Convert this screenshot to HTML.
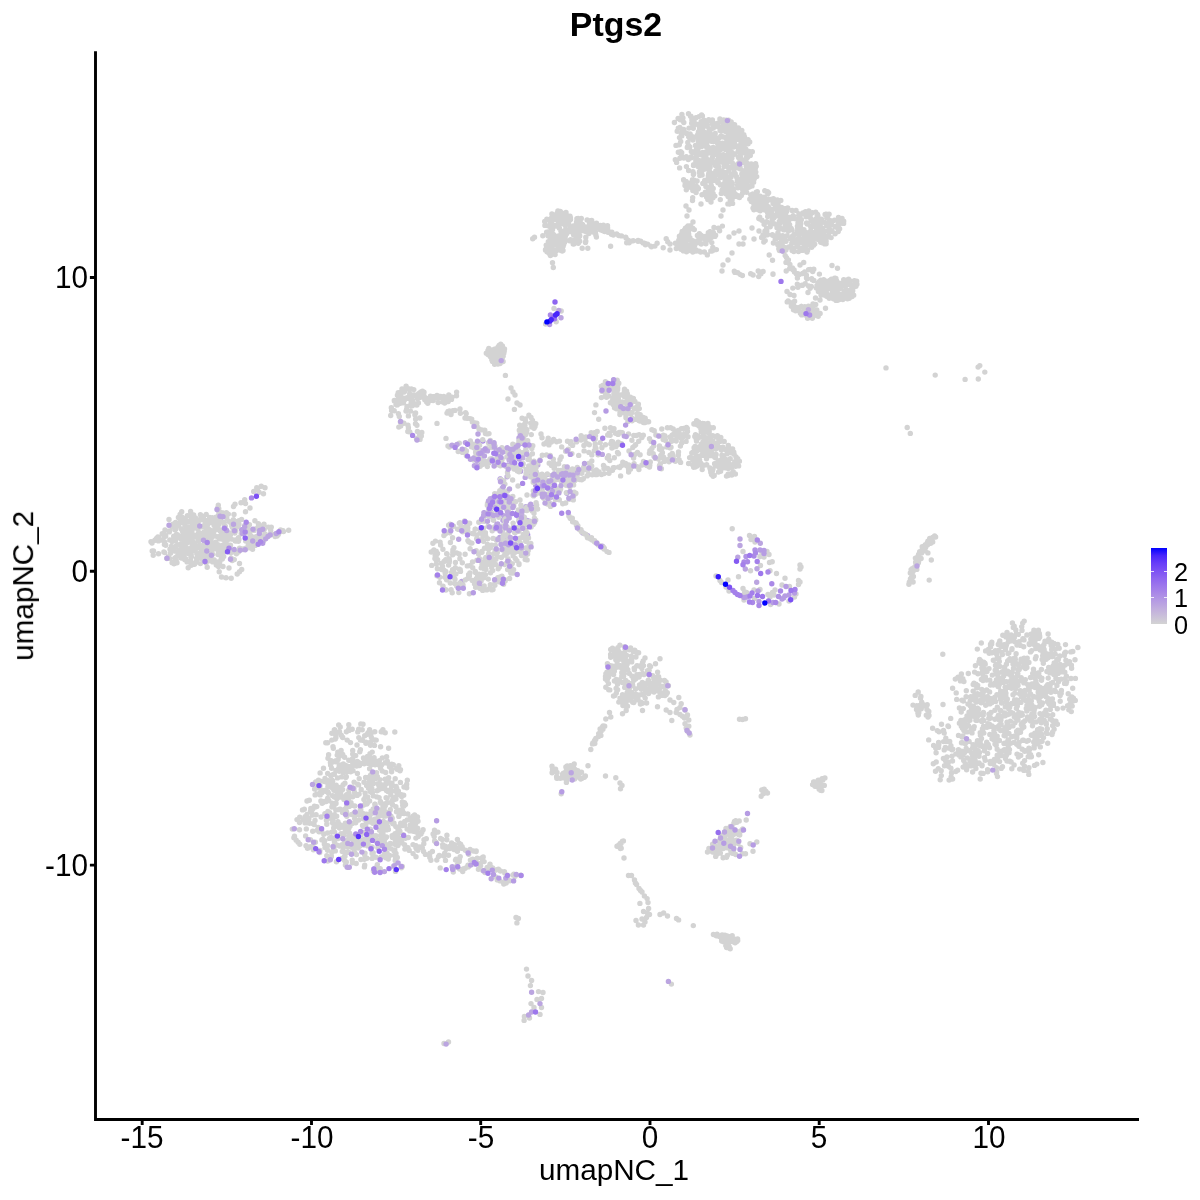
<!DOCTYPE html>
<html><head><meta charset="utf-8"><title>Ptgs2</title>
<style>
html,body{margin:0;padding:0;background:#fff}
body{width:1200px;height:1200px;position:relative;overflow:hidden;font-family:"Liberation Sans",Arial,Helvetica,sans-serif;color:#000}
#plot{position:absolute;left:0;top:0}
.t{position:absolute;white-space:nowrap;line-height:1;will-change:transform}
#title{left:316.3px;width:600px;text-align:center;top:8.4px;font-size:33.9px;font-weight:bold}
.xt{font-size:29.7px;top:1123px;width:80px;text-align:center;transform:scaleY(1.06);transform-origin:50% 84.6%}
.yt{font-size:29.7px;width:80px;text-align:right;left:8px;transform:scaleY(1.06);transform-origin:50% 84.6%}
#xl{left:314px;width:600px;text-align:center;top:1155px;font-size:29.7px}
#yl{left:-277px;top:571px;width:600px;text-align:center;font-size:29.7px;transform:rotate(-90deg)}
#bar{position:absolute;left:1151px;top:548px;width:16px;height:76px;background:linear-gradient(to bottom,#0000ff 0.0%,#4926fb 10.0%,#673df8 20.0%,#7c51f4 30.0%,#8e65f0 40.0%,#9d77ec 50.0%,#aa89e7 60.0%,#b69ce3 70.0%,#c1aede 80.0%,#cac0d9 90.0%,#d3d3d3 100.0%)}
#bar i{position:absolute;height:1px;width:3px;background:#fff;opacity:.8}
.lt{font-size:25.3px;left:1174px}
</style></head><body>
<svg id="plot" width="1200" height="1200" viewBox="0 0 1200 1200">
<g fill="none" stroke-linecap="round" stroke-width="5.4">
<path stroke="#c1aede" d="M508.9 452.7h.01M548.1 481.2h.01M537.8 464.9h.01M529.6 521.2h.01M502.2 488.3h.01"/>
<path stroke="#bba5e0" d="M521.6 464.5h.01M515.4 450.7h.01M498.7 454.3h.01M519 437.9h.01M497.6 458.4h.01M521.6 443.2h.01M481 451h.01M511.2 459.3h.01M511.1 450.8h.01M494 442.6h.01M565.6 469.5h.01M566.9 493.3h.01M530.2 474h.01M568.8 479.4h.01M549.4 503.3h.01M535.7 485.4h.01M545.3 481h.01M551.7 488.8h.01M538.2 488.8h.01M509 515.1h.01M482.9 518h.01M507.7 539.1h.01M503.7 515.8h.01M481.4 520.9h.01M500.6 505.1h.01M525.9 506.7h.01M504.6 518h.01M527.1 520.4h.01M502.8 528.5h.01M497.7 514.2h.01M532.8 507.2h.01M489.5 516.1h.01M502.2 538.5h.01M507.1 476.7h.01M521.3 552.4h.01M502.9 520.3h.01M499.7 537.4h.01M461.7 581.4h.01M480.7 587.4h.01M582.9 532.9h.01M587.7 535.7h.01M520.6 471.3h.01M525.2 477.4h.01M542.6 487.4h.01M547 474.6h.01M560.5 475.7h.01"/>
<path stroke="#b69ce3" d="M502.1 504.7h.01M502.8 490.8h.01M602.3 546.3h.01"/>
<path stroke="#aa89e7" d="M507.7 465.1h.01M482.8 441.1h.01M551.3 497.1h.01M537 486.6h.01"/>
<path stroke="#a480ea" d="M480.9 461.4h.01M516.5 447.2h.01M486.9 463.1h.01M554 489.7h.01M489 511.9h.01M517.1 513.3h.01M527.6 534.8h.01M500.2 478.9h.01M490.6 511.6h.01M506.6 547.5h.01"/>
<path stroke="#d3d3d3" d="M699.5 127h.01M676.6 162.4h.01M675.3 159.8h.01M678.3 152.2h.01M681.3 133.7h.01M756.2 166.2h.01M748.1 139.8h.01M680.7 141.5h.01M686.4 166.6h.01M703.9 163.5h.01M731.9 152.5h.01M723.3 154.8h.01M742.3 177.4h.01M722.3 161.4h.01M736.4 139.6h.01M680.7 151.6h.01M683.8 158.1h.01M730.8 183.4h.01M749.7 142h.01M724.1 166.4h.01M713.1 174.2h.01M733.8 172.6h.01M744.8 139.3h.01M712 128.6h.01M681.8 135.9h.01M710.9 163.6h.01M695.3 151.3h.01M683.7 129.4h.01M691.2 157.7h.01M708.1 147.1h.01M756.7 176.6h.01M726.2 175.3h.01M751.9 184.8h.01M742.6 149.2h.01M689 128.1h.01M683.8 122.5h.01M725.9 126.8h.01M701.6 146.6h.01M712.4 157.6h.01M679.3 144.7h.01M718.1 126.7h.01M733.4 137.2h.01M685.2 184.1h.01M740.9 143.5h.01M747.6 187.2h.01M737.3 134h.01M702.4 115.9h.01M695.4 137h.01M690.1 134h.01M688.6 170.5h.01M746.5 157.2h.01M730.1 196.7h.01M738.3 157.1h.01M741.8 143.7h.01M736 128.8h.01M729.8 145.4h.01M681.9 114.5h.01M729.1 161.5h.01M692.9 140.1h.01M723.4 137h.01M702.2 155.3h.01M752.3 151.8h.01M715.7 162h.01M713.1 179.8h.01M699.7 160.8h.01M721 136h.01M740.3 159.8h.01M739.2 197h.01M725.7 159.6h.01M733 154.7h.01M733.6 193.7h.01M693.6 164.6h.01M681.1 153.8h.01M691.9 119.9h.01M741.3 195.5h.01M735.2 173.8h.01M706.2 157.9h.01M709.3 160.5h.01M687.8 142.4h.01M700.2 170.5h.01M679.5 137.6h.01M740.9 138h.01M744.5 136.9h.01M753.6 165.6h.01M678.1 118.5h.01M708.7 119.8h.01M727.7 186.8h.01M748.5 154.9h.01M694.4 125.1h.01M691.7 123.2h.01M698.4 141.2h.01M696.4 159.1h.01M701.6 114.9h.01M720.1 130.6h.01M744.5 152.9h.01M745.9 149.3h.01M732.6 203.4h.01M745.7 178.1h.01M706.8 145.1h.01M681.8 119.7h.01M693.3 128.2h.01M731 139.1h.01M696.7 155.4h.01M710.6 137.4h.01M698.2 145.9h.01M704.7 156.8h.01M688.3 159.5h.01M694 121.4h.01M697.7 134.6h.01M718.2 182.1h.01M735.2 193.9h.01M683.6 179.7h.01M751.2 170.8h.01M717.7 159.5h.01M743.2 189.1h.01M751.2 175.9h.01M690.9 116.1h.01M702.8 122.8h.01M720.8 170.8h.01M731.9 158.1h.01M742.6 181.9h.01M718.7 173.7h.01M737 136.4h.01M694.2 180.2h.01M714.9 148.3h.01M732.2 183.6h.01M728.5 120.3h.01M693.1 181.4h.01M731.2 176.7h.01M696.5 160.6h.01M712.4 124.1h.01M711.8 188.5h.01M710.9 137.9h.01M722.9 126.2h.01M744.6 159.9h.01M734 134.4h.01M711 140.9h.01M701.3 142.2h.01M754.3 178.7h.01M696.4 147.4h.01M702.8 152.5h.01M674.4 122.5h.01M692.7 137.6h.01M687.3 147.5h.01M755.6 163.6h.01M711 182.3h.01M696 117.7h.01M681.6 156.5h.01M697.1 181h.01M693.7 173.4h.01M720.7 149.4h.01M684.7 132.3h.01M715.2 133.4h.01M682.7 130.9h.01M701.1 121.6h.01M693.5 165.5h.01M738.2 151.1h.01M717.7 147.8h.01M715.8 171h.01M689.7 138.1h.01M706.4 154.1h.01M734.6 195.4h.01M679.9 127.4h.01M732.1 199.6h.01M728.9 183.4h.01M741.2 134.6h.01M728.7 141.1h.01M692.9 171.6h.01M680.2 119.7h.01M723 148.8h.01M697.4 155.5h.01M728.7 194.3h.01M691.4 135.9h.01M734.1 141.4h.01M715.3 175.1h.01M693.4 174.5h.01M690.6 116.3h.01M708.3 175.9h.01M742.5 181.1h.01M698.4 188.5h.01M690.2 183h.01M687 133.7h.01M730.5 200.3h.01M705.8 132.7h.01M682.9 118h.01M750.4 180.5h.01M730.5 148h.01M700.2 128.7h.01M695.5 145.5h.01M688.9 145.9h.01M744.8 152.9h.01M713.1 147.4h.01M687.6 146.6h.01M743.9 183.6h.01M738 195.7h.01M726.1 137.3h.01M698.8 138.5h.01M738.8 197.3h.01M691.3 156.8h.01M692.8 152.7h.01M743 181h.01M740.3 168.9h.01M699.1 146.4h.01M677.2 131.3h.01M692.5 119.1h.01M720.3 143.1h.01M694.1 120.9h.01M715.4 178.4h.01M691.3 151.5h.01M731.3 181.9h.01M730.5 124.3h.01M696.7 165.2h.01M737.2 131.5h.01M692.3 127.3h.01M722.6 143.2h.01M691.1 187.4h.01M713.2 188.4h.01M696.7 124.1h.01M748.8 154.4h.01M679.6 167.9h.01M689.8 147h.01M688.6 136.6h.01M729.3 131.9h.01M699.8 175.5h.01M698.4 131.9h.01M719.9 119h.01M706 163.7h.01M678.3 128.2h.01M707.3 139.2h.01M721.6 146h.01M703.1 131.3h.01M688.5 113.7h.01M708.6 188.5h.01M750.3 155.5h.01M703.7 159.5h.01M695.8 161h.01M679.9 158.2h.01M726.5 188.9h.01M741.5 133.6h.01M686.6 133.2h.01M717.1 148.4h.01M692.5 179.7h.01M724.6 163.7h.01M697.9 151.8h.01M708.7 173.7h.01M726.3 158.1h.01M739.5 184.8h.01M686.3 156.6h.01M681.7 152.7h.01M710.2 160h.01M727.9 120.7h.01M740.8 160.2h.01M715.9 147.9h.01M685 185.6h.01M676 145.4h.01M695 188.1h.01M689 137.3h.01M699 116.6h.01M731.9 195.4h.01M718.3 171.6h.01M749.4 164.2h.01M705.9 186.4h.01M702.8 183.4h.01M686.1 181.5h.01M732.3 168.1h.01M705.3 164.6h.01M727.8 185.3h.01M710.1 167.3h.01M702.6 145.4h.01M732.2 162.6h.01M734.7 154.1h.01M705.3 126.1h.01M750 176.9h.01M712.4 119.9h.01M730.9 144.9h.01M723.5 188.3h.01M711.4 185.9h.01M729 149h.01M696.8 159.8h.01M704.8 133.8h.01M727.4 166.5h.01M706.8 141.9h.01M744.5 171.9h.01M748.4 174.1h.01M742 152.5h.01M702.5 136.2h.01M716.8 174.5h.01M748.4 171.7h.01M730.3 151.3h.01M728.4 138.6h.01M712.1 136.5h.01M754.6 174.2h.01M710.8 186.2h.01M739 168.2h.01M725.1 181.1h.01M749.2 151.4h.01M731.4 141.8h.01M734.6 124.8h.01M705 121h.01M704.8 121.1h.01M738.9 165.9h.01M732.6 145.9h.01M746.8 185h.01M749.8 186.7h.01M702.6 134.2h.01M746.3 165.9h.01M735.2 140.3h.01M702.1 175h.01M715.8 150.4h.01M711.9 139.9h.01M718.8 142.7h.01M727.2 182h.01M697.9 149.6h.01M743.9 144.7h.01M729.3 135h.01M708.5 175.4h.01M726.5 178h.01M726.7 144.7h.01M712.2 188.8h.01M709.3 170.8h.01M702.8 166.1h.01M744.9 170.6h.01M734.9 145.3h.01M720.5 184.9h.01M708.8 138.5h.01M727.1 147.1h.01M710.5 153.1h.01M742.8 174.7h.01M717.6 143.2h.01M748.3 168h.01M706.5 151.5h.01M731.9 128.3h.01M707.9 141.3h.01M705.7 137.3h.01M728.4 130.9h.01M745.3 173.3h.01M708.2 166.2h.01M708.8 147.7h.01M720.7 177.5h.01M727 165.8h.01M704.8 163.7h.01M741.9 186.2h.01M731.6 174.4h.01M710.2 172.4h.01M744 170.8h.01M738.1 166.5h.01M715.4 165.5h.01M722 176.9h.01M735 137.5h.01M724.2 165h.01M737.9 187.8h.01M736.6 176.6h.01M726.4 191.1h.01M729.7 130.9h.01M702.3 161.5h.01M740.5 156.9h.01M747.4 157.6h.01M738.4 148h.01M718 123.2h.01M720.8 120h.01M722.1 170.7h.01M712.4 135.6h.01M709.6 178.3h.01M709.1 128.6h.01M746.2 165.9h.01M730.8 135.7h.01M717.9 166.3h.01M746.6 153.6h.01M730 128.3h.01M718 181.9h.01M719.3 137.8h.01M740.8 139.8h.01M714.7 154.5h.01M735.5 167.8h.01M753.6 182.2h.01M747.3 186h.01M704.7 180.5h.01M755 167.5h.01M702.3 129.6h.01M744.1 144.6h.01M752.1 177.6h.01M751.3 164h.01M737.4 185.1h.01M739 158.3h.01M723.2 184.3h.01M712.4 136.3h.01M726.6 123.3h.01M705 155.4h.01M729.5 182.9h.01M748.1 153.6h.01M737.2 181.2h.01M722 190.1h.01M735.5 166.1h.01M733.8 169.5h.01M727.7 154.9h.01M734.8 144.1h.01M718.7 154.1h.01M743.8 134.6h.01M722.2 160h.01M714.2 180.3h.01M727.2 139.1h.01M745.1 143.5h.01M714.6 162.4h.01M740.8 184.5h.01M699.1 141.2h.01M707.8 187.2h.01M736.8 177.4h.01M733.9 164.6h.01M739.2 163.1h.01M709.2 168.4h.01M707.2 121.7h.01M752.7 167.5h.01M747 177.2h.01M712 141.4h.01M715.7 150.9h.01M731.2 121.9h.01M746.2 161.6h.01M723.7 120h.01M732.7 188.4h.01M725.5 149.5h.01M736 134.7h.01M738.4 128h.01M704 120.3h.01M711 173.3h.01M740.2 182.3h.01M701.2 165.5h.01M724.6 188h.01M755.8 172.1h.01M715.3 173h.01M749.4 155h.01M718.8 161.5h.01M738 129.7h.01M718.5 166.7h.01M721.9 147.5h.01M754.6 177.1h.01M714.1 123.5h.01M739.6 180.2h.01M733.6 191.3h.01M733.3 141.8h.01M738.5 163.5h.01M746.1 140h.01M712.3 150.3h.01M746.6 184.7h.01M747.7 179.1h.01M731.5 139.3h.01M746 169.7h.01M717.5 125.3h.01M742.5 187.9h.01M733.6 169.1h.01M708.8 137.9h.01M745.1 153h.01M746 176.1h.01M731.9 185.4h.01M728.4 154.3h.01M707.7 133.2h.01M739.5 145.8h.01M721 157.3h.01M719.2 126.9h.01M733 144.5h.01M726.2 161h.01M744.3 150.5h.01M743.6 179.6h.01M711.7 121.8h.01M707.2 125.2h.01M730.6 183.4h.01M700 163.3h.01M711.9 160.8h.01M755.3 168.6h.01M723.8 130.8h.01M698.4 137.9h.01M752 185.9h.01M740 166.9h.01M699.5 129.7h.01M754.2 169.1h.01M732.7 175.1h.01M716.1 138h.01M725.8 131.5h.01M704.9 169.1h.01M740.5 133.4h.01M723.7 126.2h.01M748.2 165.5h.01M717.1 179.9h.01M734.9 129.6h.01M699.5 171.8h.01M705 183.4h.01M721.5 130.5h.01M748.1 143.8h.01M726.4 142.5h.01M737.4 134.6h.01M713.7 138.1h.01M702 140.4h.01M699.6 172.8h.01M746 144.2h.01M728.6 132.8h.01M731.4 129.2h.01M743.8 171.7h.01M700.9 125.5h.01M726.7 139.3h.01M734 171.4h.01M732.1 134h.01M741.4 149.2h.01M716.8 181.3h.01M726.6 120.1h.01M725.6 183.5h.01M707.5 180.5h.01M706.1 146.5h.01M696.3 157.5h.01M728 127.9h.01M746.6 183h.01M740.1 147.2h.01M727.8 158.3h.01M709.9 132.5h.01M711.5 179.5h.01M702 170.7h.01M697.1 163.4h.01M728.4 171h.01M749.9 172.1h.01M703.6 155.5h.01M713.3 128h.01M704.5 162.8h.01M705.1 161.4h.01M706.2 180.1h.01M720.1 150.1h.01M728.6 148.3h.01M744.2 144.1h.01M716.8 151.2h.01M745.9 186.5h.01M728.1 189.9h.01M711.5 150.2h.01M718.6 158.3h.01M722.8 156.4h.01M744.1 188.3h.01M746.2 184.4h.01M698.1 166.5h.01M738.1 139.2h.01M753.3 165h.01M728.3 151.1h.01M713.8 141.6h.01M703.5 163h.01M727.9 138.9h.01M729.1 130h.01M704.1 140.7h.01M713.9 137h.01M729.9 181.1h.01M731.4 167.1h.01M740 153.1h.01M734 153.7h.01M711 135.4h.01M719.8 162.3h.01M717.9 182.8h.01M730.5 155.4h.01M723.3 123.6h.01M723.3 173.4h.01M741.8 130.4h.01M717.9 169h.01M748.7 179.8h.01M741.8 174h.01M725.5 177.1h.01M743.5 162.4h.01M721.9 177h.01M733.7 147.1h.01M724.4 172.5h.01M713.1 193.4h.01M707.8 199.5h.01M697.2 186.9h.01M727.3 194.1h.01M683.8 180.2h.01M742.6 193h.01M722.8 192.4h.01M726.2 193.9h.01M757.3 191.7h.01M709.4 192.8h.01M696.1 187.3h.01M746.6 192.3h.01M751.9 196.9h.01M705.3 192.3h.01M731.5 194.7h.01M686.3 189.7h.01M706.6 197h.01M728.1 196.4h.01M721.3 193.4h.01M732.8 192.8h.01M692.4 183.1h.01M696.1 192.6h.01M730.2 200h.01M707.9 197.6h.01M696 185.9h.01M752.6 194.1h.01M727.9 203.9h.01M748.8 187.2h.01M729.4 204h.01M713 197.7h.01M720.3 199.6h.01M696.4 188.3h.01M692.5 200.5h.01M692.8 190.5h.01M710.2 197.8h.01M756.2 192.1h.01M752.3 194.3h.01M702 194.8h.01M722.5 193.1h.01M742.4 189h.01M707.7 196.2h.01M688.1 187.1h.01M692.7 197.6h.01M735.3 196.3h.01M714.8 196.1h.01M710.1 195.3h.01M739.5 197.5h.01M686.1 183.2h.01M778.2 211.3h.01M779 228.4h.01M831.6 223.9h.01M773.4 214.9h.01M831.1 237.6h.01M787.2 235.6h.01M821.6 241.1h.01M817.5 214.4h.01M818 239.5h.01M802.4 250.4h.01M753.9 209.8h.01M768.1 206.6h.01M818.4 230.5h.01M772.1 220.2h.01M777.8 244.7h.01M829.2 222.4h.01M807.6 216.6h.01M776.8 209.9h.01M754 204.7h.01M817.9 215.7h.01M780.3 217.1h.01M764.7 190.8h.01M758.8 218.5h.01M766.9 222.1h.01M839.6 228.8h.01M773 202.3h.01M766.5 228.4h.01M826.1 241.1h.01M784.7 222.6h.01M810.6 240.4h.01M797.2 219.2h.01M777.8 224.6h.01M792.1 250.4h.01M767 234h.01M826.4 214.2h.01M813.9 220.2h.01M781.7 215.1h.01M764.4 205.6h.01M767.5 191.6h.01M793.9 250.5h.01M815.4 226.4h.01M804.9 249.3h.01M782.2 244.8h.01M766.8 231.1h.01M785.1 224.6h.01M800.8 223.5h.01M759.4 198h.01M773.1 218.5h.01M770.6 224h.01M799.1 225.1h.01M791.8 243.3h.01M819.2 236.3h.01M843.6 223.4h.01M761.6 237.5h.01M771.6 210.7h.01M777.9 233h.01M836.5 227.2h.01M804.1 246.9h.01M764.7 235.5h.01M824.1 231.2h.01M760.2 210.8h.01M773.4 198.8h.01M831.5 224.6h.01M801.6 231.8h.01M798 244h.01M751.5 198.1h.01M815.7 212.1h.01M763.8 242.1h.01M835 226.6h.01M780.8 200.4h.01M764.9 210h.01M805.5 211.8h.01M793.8 251.5h.01M775.2 204.1h.01M774.1 223.8h.01M824.8 243.9h.01M811.1 228.1h.01M776 238.8h.01M778.3 236.7h.01M798.7 228.2h.01M802.9 213h.01M781.6 207.5h.01M796 210.4h.01M771.4 209.2h.01M793.1 215.6h.01M754.6 206h.01M820.4 222.6h.01M781.9 247.2h.01M756 197.9h.01M825.1 214.4h.01M764.4 203.8h.01M769.7 212.5h.01M808 243.4h.01M767.6 234.7h.01M766.7 221.7h.01M811.7 247.3h.01M780.5 235.8h.01M788.4 231.1h.01M781.3 218.8h.01M773.6 216.8h.01M840.2 223.5h.01M757.3 196.4h.01M829.1 214.1h.01M806.6 222.9h.01M818.9 236.7h.01M778.8 237.3h.01M800.1 248.5h.01M813.3 237.4h.01M750.8 194.9h.01M798 222.9h.01M762.9 197.8h.01M797.7 228.2h.01M827.7 216.6h.01M812.3 212.7h.01M788.8 247h.01M773.1 203.4h.01M771 199.5h.01M774.6 235.9h.01M776.1 208h.01M816 225.7h.01M805.7 244.6h.01M825.7 243.3h.01M763 234.9h.01M764.8 231.3h.01M781.8 247h.01M751.3 201.6h.01M779.5 244.3h.01M821.5 219.2h.01M783.2 219h.01M765.7 203.6h.01M788.6 223h.01M813.1 222.1h.01M835.1 233.7h.01M779.7 213.8h.01M786.6 211.6h.01M808.8 211h.01M767.8 193.7h.01M780.3 228.9h.01M779.4 250.5h.01M822.3 242.7h.01M807 252.1h.01M810.7 235.4h.01M800.4 226.7h.01M780.1 227.8h.01M770.2 226.7h.01M838.5 217.4h.01M800 217.6h.01M800.7 220.8h.01M765.2 240.6h.01M811.8 240.9h.01M786 241.3h.01M760.3 196.2h.01M758.2 209.7h.01M799.9 216.1h.01M817.2 215.8h.01M827.5 236.4h.01M784.9 208.6h.01M749.8 199.3h.01M753.8 197.8h.01M775.3 207.5h.01M811.4 243h.01M790.1 238.6h.01M792.1 210.4h.01M777.4 213.1h.01M786.4 224.4h.01M785.8 220.9h.01M794.1 216.7h.01M789.3 217.4h.01M791.8 218.6h.01M830.1 230.5h.01M815.7 222.8h.01M815.8 233.2h.01M789.6 224.8h.01M762.5 208.2h.01M775.4 203.4h.01M773.4 243h.01M798.9 213.9h.01M778.3 243.6h.01M794.2 218.5h.01M784.4 239.2h.01M839.6 222.9h.01M779.3 221.4h.01M775.2 238.9h.01M818.8 239.3h.01M793.3 248.1h.01M791.2 228.4h.01M839.9 223.3h.01M797.6 230.7h.01M777.4 200h.01M768.6 192.7h.01M789.3 229.7h.01M838.2 231.5h.01M777.2 201.4h.01M779.7 223.2h.01M785.8 228.5h.01M794.3 234.4h.01M841.6 220.9h.01M782.7 235.8h.01M796.3 243.4h.01M761.9 204h.01M807.6 250.2h.01M753 208.1h.01M772.6 235.3h.01M826.5 225.5h.01M783.1 210.9h.01M764.3 197.3h.01M781 241.9h.01M759.7 218.9h.01M759.7 217.1h.01M801.3 219.7h.01M767.7 212.8h.01M760.7 201.9h.01M798 245.1h.01M842 218.4h.01M804.8 231.7h.01M787.2 220.4h.01M807.3 238.1h.01M754.2 202.3h.01M809.6 231.9h.01M782.1 239.8h.01M772.4 234.7h.01M763.1 208.9h.01M767.7 200.6h.01M826.8 217.9h.01M822.8 228.3h.01M810.3 242.2h.01M806.8 214.9h.01M826.1 243.8h.01M843.7 221.3h.01M767.7 216.4h.01M797.1 246.3h.01M826.1 238.7h.01M813 241.5h.01M807.2 241.5h.01M808.2 216.4h.01M769.3 209.5h.01M756.8 204h.01M792 229.9h.01M766.3 204h.01M836.6 226.5h.01M787.3 219.2h.01M798.5 251.6h.01M793.3 239.7h.01M803 243.3h.01M785.5 247.7h.01M810.2 215.5h.01M784 229.9h.01M785.4 220.7h.01M838.4 219.1h.01M831.1 231.4h.01M792.6 235.9h.01M820.6 235.8h.01M787.1 235.6h.01M776 236.6h.01M802.2 213.9h.01M812.6 239.4h.01M785.9 249.9h.01M764.1 224.2h.01M761.9 220.3h.01M764.2 235h.01M777.6 211.4h.01M778.8 248.7h.01M767.5 211.9h.01M764.9 209.7h.01M780.8 228.9h.01M773.7 217.9h.01M776.2 204.4h.01M777.8 207.7h.01M765.2 202.2h.01M777 227.7h.01M758.7 205.3h.01M783.1 228.7h.01M768.4 209.6h.01M768.7 199.3h.01M776.3 216.1h.01M771.4 215.1h.01M782 218.9h.01M778.1 203.7h.01M785.7 215h.01M788.5 222.4h.01M783.6 220.6h.01M762.9 201.2h.01M787.7 208h.01M772.7 217.7h.01M758.6 201.2h.01M768.3 206.6h.01M804.5 241.4h.01M818.2 229.6h.01M824.2 239.2h.01M813.2 232.4h.01M804.9 243.8h.01M797.4 231.3h.01M815.8 237.8h.01M815.8 226.9h.01M813.3 225h.01M829.3 232.5h.01M803.5 238.5h.01M806.7 233.9h.01M828.7 236.2h.01M811.1 221.2h.01M811.1 244.8h.01M815.8 219.3h.01M801.4 240.9h.01M832.1 231.2h.01M821 232.3h.01M806.1 216.7h.01M829.2 228.3h.01M834.4 220.3h.01M804.3 234.7h.01M831.7 230.8h.01M797.4 226.3h.01M824.7 222.6h.01M799 234.9h.01M803.6 230.6h.01M824.5 238.6h.01M797.2 239.2h.01M816.6 228.8h.01M828.3 223.7h.01M827.2 231.1h.01M812.8 241.2h.01M824.4 239.7h.01M838.7 223h.01M838.1 224.4h.01M794.9 240.2h.01M803 241.8h.01M818.6 219.4h.01M820.7 242.3h.01M823.8 235h.01M820.2 225.3h.01M794.4 239.8h.01M816 219.9h.01M803.9 229.7h.01M810.9 219h.01M798.9 227.8h.01M830.6 220.7h.01M799.5 238.2h.01M819 230.6h.01M823.3 236.8h.01M814.7 244.1h.01M827.9 224.1h.01M810.7 226.4h.01M807.2 224h.01M809.8 240.7h.01M819.5 219.4h.01M809.1 236.1h.01M801.7 233h.01M813.6 245.2h.01M840.4 218.9h.01M807.8 245h.01M806.5 238.9h.01M802.5 230h.01M830.2 224h.01M783.9 251.7h.01M785.2 255.6h.01M786.5 257.6h.01M788.4 259.9h.01M786 262.4h.01M789.9 264.5h.01M789.7 268.5h.01M794.5 272.1h.01M796.2 273.5h.01M796.5 274h.01M797.4 278.1h.01M844 291h.01M823.7 279.7h.01M831.5 294.4h.01M849.5 282.4h.01M826.6 296.3h.01M825.5 280.9h.01M832.3 285.3h.01M836.1 298.2h.01M844.2 297.3h.01M817.2 287.2h.01M836.4 280.4h.01M818.9 285.2h.01M847.6 290.4h.01M835.6 294.6h.01M831.4 279.1h.01M836 294.9h.01M825.9 288.7h.01M843.7 279.7h.01M854.4 280.6h.01M819.5 281.5h.01M824.1 295.1h.01M855.9 286.3h.01M837.7 300.2h.01M856.9 284.2h.01M817 285.5h.01M835.3 290.3h.01M821.9 282.1h.01M823.1 290.9h.01M833.4 298.7h.01M853 286.7h.01M852.1 296.6h.01M840.9 296.4h.01M845.4 282.5h.01M831.6 289.4h.01M816.4 288.1h.01M846.1 292.5h.01M856.7 281.3h.01M848.6 279.3h.01M825.1 282.8h.01M840.5 285.1h.01M834.6 280.5h.01M843 294h.01M828.8 282.5h.01M838.7 294.5h.01M829.6 286.6h.01M819.9 291.9h.01M847 284.7h.01M822.5 293.7h.01M849.9 296.5h.01M846.1 296.5h.01M821.9 280.9h.01M826.2 282.6h.01M825.4 283.4h.01M845.4 291.7h.01M844.2 282.7h.01M851.1 294.3h.01M818.4 291.5h.01M853.3 287.8h.01M838.2 285.3h.01M826.7 293h.01M829.5 288.2h.01M820.5 287.6h.01M842.3 283.6h.01M834.6 278.2h.01M818.2 283.3h.01M838.6 297.2h.01M834.1 284.6h.01M847.5 298.7h.01M836.1 300.4h.01M846.4 294.7h.01M830.4 282.3h.01M829.7 280.4h.01M852.7 290.7h.01M829.9 297.6h.01M827.3 285.3h.01M854.7 286.5h.01M853.7 295.3h.01M832.2 297.4h.01M850.9 284.8h.01M847.6 293.3h.01M849.2 298.2h.01M820.3 284.3h.01M847.5 281.1h.01M833.1 296.5h.01M829.2 298.3h.01M851.2 289.2h.01M844.3 281.3h.01M841.1 287h.01M838.3 296.9h.01M847.7 296.4h.01M834.4 285.7h.01M839.2 288.8h.01M849.8 280.7h.01M855.3 281.3h.01M842.8 296.5h.01M827.7 286.7h.01M835.9 278.4h.01M826.9 289.2h.01M824.6 290.9h.01M846.2 282.9h.01M849.9 293.3h.01M848.6 282.3h.01M822.9 281.6h.01M824.2 284.1h.01M836 281h.01M831 286.8h.01M845.4 286h.01M842.8 299.5h.01M822.2 285.3h.01M849.6 291h.01M836.4 288.6h.01M854 284.9h.01M832.5 291.5h.01M827.1 285.4h.01M838.9 283h.01M827.2 294.7h.01M839.4 299.5h.01M852.5 285.8h.01M820.8 280.1h.01M832.6 282.5h.01M846 280.5h.01M838.5 293.4h.01M830.3 286.1h.01M823.4 285.8h.01M833.6 293.1h.01M829.4 285.6h.01M829.5 295.3h.01M852.5 288.5h.01M840.4 299.1h.01M820.4 283.1h.01M820.1 288.6h.01M825.1 292.7h.01M850.4 295.3h.01M821 295.1h.01M843.1 285.6h.01M792.4 268h.01M793.3 269.9h.01M794.1 269.9h.01M797.9 273.8h.01M799.2 274.5h.01M802.6 273.5h.01M804.7 272h.01M808.6 269.7h.01M810.3 269.4h.01M813.8 269.2h.01M812.7 271.5h.01M819.4 274.1h.01M806.4 275.3h.01M806.5 278h.01M807.1 278.8h.01M811.7 278.7h.01M812.3 279.7h.01M813.6 280.6h.01M813.9 280.4h.01M792.8 288.1h.01M797.3 284.2h.01M797.9 287.2h.01M802 285.3h.01M802.3 285.4h.01M805.2 283.7h.01M808.6 285.9h.01M811.3 286.4h.01M810.1 288.3h.01M808 292.5h.01M832 265.5h.01M837.5 268.2h.01M800 265h.01M803.7 262.5h.01M786.2 271h.01M773 274.3h.01M772.5 260.3h.01M769.2 255h.01M793.1 303.3h.01M804.8 306.8h.01M813.5 305.5h.01M812.7 312.2h.01M790.8 302.8h.01M807.6 318.2h.01M804.4 312.8h.01M801 312h.01M794.6 301.2h.01M800 307.1h.01M816.8 309.9h.01M820.1 313.5h.01M788.1 301h.01M801.4 306.4h.01M791.3 306.3h.01M787.2 301.9h.01M804.5 307h.01M813.3 316.2h.01M801.7 314.9h.01M793.9 308.6h.01M793.8 308.6h.01M810.6 310.9h.01M816 310.4h.01M811.2 315.7h.01M812.3 318.2h.01M807.4 316.4h.01M811.6 307.8h.01M817.9 314.3h.01M818.2 316.2h.01M817.9 313.1h.01M805 310.6h.01M799.5 311.3h.01M793.8 305.7h.01M804.4 309.1h.01M811.9 317.7h.01M804.7 308h.01M816.2 310.6h.01M793.5 309.8h.01M797 307.6h.01M813 304h.01M814.9 314.7h.01M809.3 315.6h.01M805.2 315.1h.01M815.7 304.5h.01M813.1 310.7h.01M795.6 310.7h.01M801.3 306.5h.01M792.4 302.8h.01M800.4 313.3h.01M808.4 306.1h.01M787 291.5h.01M790 294.5h.01M794 295.5h.01M815.5 298h.01M820 300h.01M825.5 308.3h.01M686.2 243.2h.01M690.5 225.6h.01M705.9 243.7h.01M689.9 237.7h.01M718.3 228.1h.01M686.5 251.8h.01M703.2 236.5h.01M713.2 250.3h.01M722.4 226.1h.01M685.9 244.4h.01M693.6 250h.01M687.5 248.5h.01M679.4 236.2h.01M699.4 233.7h.01M683.1 240.7h.01M692.8 252h.01M691.1 244.1h.01M688.6 227.1h.01M692.7 228.1h.01M700.5 234.9h.01M715.6 235.2h.01M694.3 229.6h.01M706.9 238.7h.01M686.2 249.7h.01M714.9 236.4h.01M707.4 240.3h.01M684.5 229.9h.01M708.3 232.7h.01M681.5 244h.01M699.5 234.4h.01M681.4 239.9h.01M681.5 234.3h.01M701.2 244.1h.01M696.2 251h.01M711.1 236h.01M709.9 233h.01M683.5 250.9h.01M696.1 251h.01M700.6 252h.01M682.7 233.8h.01M696.1 249.9h.01M710.1 231.7h.01M704.4 252h.01M708.6 239.2h.01M710.8 251h.01M708.4 237.1h.01M692.7 240.7h.01M676.3 248.5h.01M685.1 235.5h.01M706.6 237.4h.01M697.6 240.6h.01M684.5 247.5h.01M714 227.4h.01M705.5 239.8h.01M713.3 232.5h.01M701.5 243.6h.01M681 249.3h.01M716.4 249.6h.01M707.3 254.9h.01M679.8 237.6h.01M682.2 231.5h.01M693.6 229.2h.01M697.8 241.6h.01M699.2 251.2h.01M719.6 230.8h.01M711.8 242.6h.01M685.4 249.4h.01M709.9 231.7h.01M706.1 236.3h.01M678.1 245h.01M682.4 242h.01M686.9 227.1h.01M679.1 240.1h.01M689.4 239.2h.01M712.8 247.5h.01M690.8 227.9h.01M711.3 237.6h.01M699.6 238.5h.01M711.9 251h.01M683.6 237.4h.01M694.6 245.5h.01M697.1 242.8h.01M692.3 250.3h.01M686.4 250.8h.01M675.4 243.2h.01M701.1 238.5h.01M684.3 245.8h.01M681.3 243.7h.01M688.7 234.1h.01M685.4 228.2h.01M683.9 248.1h.01M691.9 248.6h.01M697.4 235.5h.01M687.2 239.4h.01M678.8 240.1h.01M688.5 231.2h.01M685 243.8h.01M687.2 247.1h.01M688.9 250.6h.01M688.7 247.3h.01M679.7 240h.01M682.4 241.2h.01M693.2 245.7h.01M684.3 245.9h.01M686.6 228.2h.01M691 228.5h.01M687.9 232h.01M686 206h.01M689 210h.01M687 216h.01M693 222h.01M688 226h.01M701 204h.01M711 202h.01M723 210h.01M721 216h.01M698 189h.01M729 237h.01M734 233h.01M739 231h.01M744 238h.01M739 244h.01M743 244h.01M752 228h.01M759 231h.01M754 239h.01M732 253h.01M728 260h.01M723 265h.01M722 271h.01M773 274h.01M734.3 271.2h.01M734.9 272.4h.01M737.8 272.7h.01M740.4 274.6h.01M742.4 275.5h.01M753.1 275h.01M761 273.7h.01M750.7 273.8h.01M759.8 272.5h.01M762.4 271.6h.01M763.1 271.4h.01M758.2 270.9h.01M758.7 276.6h.01M549.1 251h.01M560.7 239.4h.01M573.8 244h.01M574.7 240.9h.01M546.8 219.3h.01M569.2 230.3h.01M585.9 229.3h.01M577.2 219.1h.01M608 232.2h.01M559.5 245.3h.01M594.8 232.7h.01M554 237.1h.01M565.7 215.1h.01M590.2 220.8h.01M563.5 222.9h.01M599.6 228h.01M560.3 211.4h.01M576.5 221.9h.01M606.6 227.8h.01M578.8 222.8h.01M556.3 243.7h.01M596.4 237h.01M603.8 227.8h.01M594.2 231.3h.01M593 225.3h.01M560 242.6h.01M552.2 216.7h.01M608.3 231.3h.01M548.9 231.6h.01M575 229.7h.01M559.3 224.7h.01M569.5 240.8h.01M564.8 238.9h.01M557.1 226.1h.01M568.7 222.6h.01M548.2 235.9h.01M575.7 229.4h.01M547 251.8h.01M560 237.5h.01M563.1 246.2h.01M565.4 235.9h.01M574.8 240.2h.01M544.9 225.4h.01M547.8 247.6h.01M559.4 228.3h.01M583.1 225.6h.01M577.3 228.5h.01M561.5 233.5h.01M554.5 250h.01M548.1 225.8h.01M552.6 224.6h.01M595.7 234.2h.01M607.5 225.7h.01M603.4 225.1h.01M580.6 223.3h.01M559.6 243.2h.01M551.9 247h.01M563.8 214.9h.01M593.8 232.3h.01M554.3 215.3h.01M548.7 245.8h.01M559.9 241.6h.01M570.4 231.5h.01M566 221.7h.01M578.3 243.3h.01M568.8 224.1h.01M591.7 220.4h.01M562.2 251.1h.01M575 228.2h.01M604.6 231.5h.01M560.7 215.1h.01M575 228.3h.01M601.5 228h.01M563.8 234.6h.01M572.8 232.4h.01M553 253.8h.01M600.3 229.8h.01M545.6 250.3h.01M557.8 245.8h.01M570.5 219.5h.01M568.2 229.8h.01M584.8 227.5h.01M548.4 234.8h.01M570.7 226.8h.01M555.1 254.6h.01M579 230.4h.01M564.3 233.6h.01M557.4 212.8h.01M594.3 231.1h.01M548.3 241.8h.01M596.9 224.5h.01M579.7 241.2h.01M546.2 245.1h.01M562 231.3h.01M556 218.8h.01M573.2 244.1h.01M586.2 228.8h.01M565.6 221.1h.01M590.4 224.5h.01M589.4 224.4h.01M607.6 228.1h.01M564.3 220.1h.01M560.7 241.7h.01M585.1 231.2h.01M587.1 220h.01M556.8 224.9h.01M550.2 226.7h.01M581.3 218.4h.01M551.5 245.7h.01M550.2 222.1h.01M580.2 222.3h.01M565.3 225.4h.01M545.5 249.7h.01M561.6 220.3h.01M567.7 215.9h.01M560.1 237.6h.01M563.7 235.1h.01M590.7 226.5h.01M574.7 225.8h.01M550.4 254h.01M559.4 235.6h.01M566.6 233.8h.01M556.4 239.9h.01M561.7 215.8h.01M578.1 218.5h.01M550.2 239.7h.01M552.2 220.5h.01M565.8 229.1h.01M551.6 250.4h.01M550.4 255.5h.01M564.5 242.6h.01M604.2 228.4h.01M563.4 236h.01M549.3 243.5h.01M603.6 231h.01M596.5 223.3h.01M557.5 217.2h.01M552.5 229.8h.01M550.7 255.3h.01M588.9 233.5h.01M553.4 234.5h.01M552.5 251.6h.01M561.2 221.6h.01M585.8 237.2h.01M577 234.5h.01M557.9 211h.01M564.2 216.1h.01M592.9 224.5h.01M557.3 236.5h.01M551.6 220.2h.01M577.3 236.8h.01M585.8 241.2h.01M571.5 230.2h.01M580.2 227.3h.01M571.5 227.8h.01M590.5 228.9h.01M582.2 227.6h.01M574 225.6h.01M559.5 222.3h.01M595.4 232.4h.01M559.1 248h.01M590.1 231.9h.01M547.9 244.8h.01M550.4 238.1h.01M558.8 226.4h.01M564.9 231h.01M555.7 244.3h.01M565.1 238.9h.01M570.5 239.7h.01M552 236.7h.01M563.7 239.5h.01M577.2 222.3h.01M561.8 247.2h.01M560.9 231h.01M554.7 219.3h.01M557.8 225.9h.01M593 229.3h.01M602.3 230.4h.01M577.9 242.5h.01M561.5 216.6h.01M573.7 235.1h.01M555.4 226.1h.01M589.8 230.7h.01M560.8 220.2h.01M579.5 225.7h.01M562.8 223.5h.01M560.6 235.2h.01M581.8 230.6h.01M566 212.4h.01M560.5 250.3h.01M586.1 227.1h.01M563.2 215h.01M585.5 242.5h.01M561.6 214.3h.01M566.6 219.1h.01M554.6 240h.01M576.9 218.7h.01M551.1 218.5h.01M577.1 232.8h.01M564.5 217h.01M563 250.5h.01M551 242.7h.01M570.4 217.6h.01M564.6 216.6h.01M570 216.2h.01M579.6 236.3h.01M551.6 222.3h.01M600.4 225.5h.01M564.5 217.1h.01M588.7 227.8h.01M553.9 249.6h.01M596.4 226.3h.01M600.9 226.9h.01M567.4 223.2h.01M595.7 224.7h.01M546.5 248.5h.01M579.7 235.7h.01M552.9 242h.01M544.7 221.4h.01M553.8 235.4h.01M554.1 235.2h.01M592.2 229.1h.01M563.6 244.8h.01M595.5 227.4h.01M588.2 231.5h.01M595.9 235.3h.01M597.1 227.9h.01M551.9 213.9h.01M564.8 222.6h.01M549 253.2h.01M580 231.2h.01M582.9 226.6h.01M552 226.6h.01M558.3 220.7h.01M561.7 212.9h.01M563.4 242.1h.01M582.5 224.4h.01M574.4 232.2h.01M546.6 232.3h.01M556 250.9h.01M532.7 238.7h.01M534.5 237.2h.01M542.8 235.7h.01M582.2 248.2h.01M587.8 248.2h.01M552.5 262.7h.01M553.3 267.5h.01M610.6 246.2h.01M611.4 234.3h.01M611.9 232.3h.01M613.3 235.1h.01M616.7 233.9h.01M618.7 235.5h.01M621.5 235.9h.01M625.7 237.1h.01M626.1 238.1h.01M627.9 240.3h.01M626.7 242.7h.01M630.9 241.3h.01M629.1 242.8h.01M633.2 240.7h.01M638 241.2h.01M638.1 240.5h.01M640.7 241.2h.01M643.1 242.9h.01M645 243.4h.01M645.4 244.7h.01M647.6 244.1h.01M651.5 246.7h.01M650.8 246.1h.01M654.9 246.1h.01M657.1 243.3h.01M663.2 247.7h.01M666.2 238.7h.01M670 244h.01M670 250h.01M667.7 241.7h.01M554 308.5h.01M561.2 311h.01M556.2 321.7h.01M545.6 324h.01M500.2 356.6h.01M490.2 356.4h.01M499.1 345.5h.01M491.9 350.2h.01M499.2 350.4h.01M497.5 360.2h.01M496.3 363.3h.01M494.1 357.8h.01M504.2 351.2h.01M496.1 349h.01M503.1 361.5h.01M488 350.4h.01M500.2 348.2h.01M496.7 352.3h.01M497.9 364.1h.01M503.2 356.1h.01M491.9 352.5h.01M488 354.4h.01M501.5 361.9h.01M498 354.9h.01M496.6 356.7h.01M496.1 359.3h.01M503.8 353.2h.01M494.2 351h.01M491.8 359.8h.01M494.1 356.1h.01M502.9 348.1h.01M492.5 361.4h.01M488.8 348.5h.01M500 363.5h.01M500.2 352.7h.01M502.4 345.9h.01M504.5 349h.01M502.2 351.4h.01M498 347.2h.01M502.2 358.4h.01M500.9 358.4h.01M494.6 364.2h.01M486.3 353.3h.01M494.6 361.4h.01M498.3 357.7h.01M494.5 349.3h.01M500.7 344.2h.01M495.2 351.8h.01M505.4 375.4h.01M511 388h.01M513 392h.01M515 395h.01M508 399h.01M517 403h.01M520 405h.01M514.4 409.4h.01M411.2 401.9h.01M433.1 400.6h.01M448.7 396.4h.01M419.9 392.6h.01M451.5 399.4h.01M438.7 396.2h.01M409.6 389.7h.01M415.2 404.7h.01M410.8 404.6h.01M396.7 405h.01M418.4 393.9h.01M427.8 403.2h.01M444.9 398.6h.01M405.3 398.3h.01M430.2 400.5h.01M448.2 401.6h.01M440.7 396.5h.01M446.8 398.2h.01M404.1 392.1h.01M411.8 405.9h.01M397.3 404.9h.01M418.4 403h.01M410.9 396h.01M426.5 401.8h.01M396 404.6h.01M409.7 393.9h.01M421.6 393.8h.01M401 396.5h.01M421.4 391.7h.01M411.1 399.1h.01M423 396.7h.01M402 388.9h.01M408.7 388.8h.01M438.4 397.1h.01M447.1 399.2h.01M433.3 398.8h.01M398.2 392.7h.01M417.4 398.4h.01M444.6 403.1h.01M417.3 395.8h.01M406.3 387.7h.01M433.9 398h.01M400.3 403.3h.01M436 396.7h.01M397.4 395.2h.01M404.6 391.4h.01M407.8 398.3h.01M397.6 399.9h.01M399.7 394.9h.01M418.6 396.7h.01M452 397.2h.01M411.3 388.9h.01M433 396.6h.01M394.3 400.4h.01M436.4 397.9h.01M436.9 396h.01M448.8 395h.01M438.9 398h.01M443.9 397.6h.01M456.6 392.1h.01M438.2 402.6h.01M422.9 393.3h.01M436.5 396.3h.01M401.1 400.8h.01M419.9 397.5h.01M456.5 395.7h.01M423.4 393.6h.01M399.6 399.5h.01M443.8 396.4h.01M442.9 402h.01M414.8 395.8h.01M422.5 391.3h.01M418.6 393.8h.01M424.8 399.8h.01M437 395.4h.01M406.1 386.3h.01M402.4 402.9h.01M412.8 404h.01M407.9 397.5h.01M427.4 398.6h.01M442.6 397.9h.01M404.6 399.8h.01M411.2 394.8h.01M430.1 400.6h.01M410.9 398h.01M424.2 396.1h.01M403.5 402.6h.01M413.3 402.8h.01M416.9 405h.01M394.4 401h.01M400.4 392.5h.01M424 392.3h.01M430.4 396.1h.01M413.8 389.6h.01M444.2 397h.01M397.9 402.8h.01M441.1 397.3h.01M412.4 400.8h.01M435 396.5h.01M414.4 395h.01M408.4 415.9h.01M398.4 413.8h.01M398.8 427.1h.01M407.8 431.5h.01M416.5 438.7h.01M415.5 423.7h.01M417.4 431.5h.01M408 425.3h.01M421.8 432.5h.01M408.4 427.8h.01M406.7 408.9h.01M420 436.3h.01M402.9 423.1h.01M409.8 431.9h.01M415.1 413.3h.01M400.7 426h.01M421.3 435.9h.01M415.6 418.9h.01M410.5 411.1h.01M407 406.5h.01M406 411.1h.01M419.8 418h.01M400.4 422h.01M415.6 412.9h.01M416.9 425.2h.01M419.4 435.5h.01M403.9 423.3h.01M399.3 416.4h.01M390.7 415.5h.01M394.2 410.7h.01M391.6 410.6h.01M420 439.4h.01M420.2 438.1h.01M391.3 407.8h.01M414.9 414.8h.01M447 413.1h.01M451 414.6h.01M448 411.4h.01M451.1 413.4h.01M449.4 410.9h.01M452.9 410.7h.01M455 410.4h.01M460 409h.01M460.4 413.3h.01M465.6 412.6h.01M466.2 413.6h.01M465 418h.01M469.9 418.6h.01M467.1 418.3h.01M471.7 419.1h.01M472.4 421.9h.01M475.3 424.4h.01M474.3 422.7h.01M476.8 423.1h.01M477.1 426.5h.01M479 428.9h.01M481.8 429.9h.01M484.8 430.3h.01M485.4 433.6h.01M487.3 433.9h.01M489 433.6h.01M437 423.4h.01M446 438.4h.01M470.4 441h.01M476 444h.01M488.5 442.7h.01M529.4 456.1h.01M525.8 449.5h.01M458.2 451.5h.01M483 464.3h.01M514.2 453.4h.01M509.9 465.9h.01M531.8 448.5h.01M495 446.2h.01M482.5 451.2h.01M501.7 462.6h.01M486.2 448.2h.01M527.1 446.3h.01M497.1 464.5h.01M520.7 435.5h.01M477.2 448.3h.01M478.8 466.6h.01M514.8 465.3h.01M466.4 455.7h.01M498.8 450.6h.01M448 446h.01M517.7 450.7h.01M487.4 466.5h.01M459.3 443.1h.01M522.5 437.5h.01M529.4 459.6h.01M493.1 460.3h.01M475 456.7h.01M485.4 462.5h.01M532.4 453.7h.01M501 459.4h.01M502 459.4h.01M485.9 449.3h.01M478.8 460.5h.01M516.1 445.2h.01M471.4 446.8h.01M505.4 451.3h.01M521.8 455.8h.01M481.8 451.8h.01M481 457.2h.01M479.9 451.9h.01M491.8 458.8h.01M449.4 447.1h.01M490.2 443.2h.01M508.2 451.6h.01M505.4 450.4h.01M530.4 446h.01M472.2 444h.01M480.2 466.2h.01M511.7 466.9h.01M479.6 445.2h.01M488.8 463.1h.01M484.6 461.3h.01M514.2 458h.01M506.9 456.9h.01M514.7 450.2h.01M518.5 450.8h.01M490.1 459h.01M526.3 453.5h.01M511.3 458.4h.01M523.1 463.8h.01M466.4 451h.01M479.4 450.6h.01M480.9 454.3h.01M512.8 444.2h.01M479.9 460.6h.01M526.7 451.8h.01M477.4 448h.01M517.4 453h.01M473.7 460h.01M504.2 449.2h.01M522 452.8h.01M508 452.7h.01M501.9 447.8h.01M454.8 446h.01M528 459.6h.01M499 451.4h.01M491.2 447.5h.01M473.8 447.8h.01M532.8 445.7h.01M489.5 443.7h.01M490.3 440.4h.01M517.4 447.4h.01M464.9 449.6h.01M508.5 451.5h.01M488.8 460.9h.01M475.6 452.2h.01M487.1 461.8h.01M519.9 442.6h.01M496.5 459.2h.01M462.5 452.4h.01M482.7 439.7h.01M527.7 440.7h.01M526.7 429.4h.01M525.6 421.7h.01M522.1 418.2h.01M524.2 424.6h.01M531.8 427h.01M525.3 422.7h.01M526.4 443.2h.01M518.9 441h.01M523.7 439h.01M525.5 434.7h.01M519.3 430.3h.01M535 426.5h.01M532.7 426.8h.01M526.5 432.2h.01M535.8 423.7h.01M531.3 434.6h.01M520.5 442.4h.01M530.8 423.2h.01M523.6 428.6h.01M528.9 415.3h.01M531 417.5h.01M524.9 425.6h.01M526.9 430.1h.01M519.6 441.1h.01M520.3 433.8h.01M521.3 441.3h.01M534 428.2h.01M519.7 425.2h.01M525.3 419h.01M520.8 428.2h.01M532.5 420.4h.01M520.1 432.9h.01M522 432.8h.01M541 434h.01M553.6 439.4h.01M544 444h.01M550 456.6h.01M540 460h.01M548.6 500.1h.01M534.6 476h.01M547.3 474h.01M523.1 463.9h.01M551.3 496.1h.01M579.7 479.5h.01M540.1 477.7h.01M530.5 476.7h.01M561.5 482.1h.01M555.9 475.2h.01M553.8 495.8h.01M534.7 493.1h.01M573.1 497.5h.01M547.5 488.2h.01M543.7 498.3h.01M542.7 492.3h.01M577.9 479.1h.01M560.2 488.5h.01M542.9 479.5h.01M546.6 494.3h.01M545.8 495.9h.01M543.3 486.9h.01M552.7 479.7h.01M555.9 496.2h.01M539.4 493.1h.01M540.6 493.2h.01M562.7 503.8h.01M535.4 494.5h.01M533.6 495.9h.01M572.9 498.7h.01M533.4 473.5h.01M535.5 477.1h.01M573.2 497.3h.01M569 480.8h.01M540.1 482.4h.01M572 477.6h.01M554 476.4h.01M575.9 493.3h.01M558.9 474.6h.01M551.6 475.4h.01M566.3 492.6h.01M561.8 478.5h.01M574.3 492.2h.01M573.3 499.9h.01M556.5 477h.01M539.3 482.7h.01M533.3 491h.01M568.4 473.2h.01M557.9 489h.01M572.4 468.9h.01M542.7 493.6h.01M546.3 482.4h.01M528.7 465.9h.01M552.8 504.8h.01M559.3 499.7h.01M537.4 462.9h.01M559.9 490.4h.01M547.3 504.1h.01M565.7 503h.01M549.6 483.5h.01M567.2 472h.01M532.7 473.6h.01M546.4 495.5h.01M561 472.5h.01M568.7 480.1h.01M572.7 474.3h.01M569.9 486.7h.01M554.4 493.5h.01M566.1 485.2h.01M550.5 506.4h.01M544.5 476.5h.01M566.2 482.2h.01M550.8 495.6h.01M554.9 480.2h.01M562.8 473.5h.01M558.1 479.3h.01M563.6 477.7h.01M558.8 471.3h.01M552.9 504.3h.01M532.9 495.2h.01M542.7 493.3h.01M560.8 470.5h.01M574.6 480.8h.01M531.5 471.7h.01M528.7 471.4h.01M542 474.2h.01M569.5 499.3h.01M565.7 481h.01M532.3 466.7h.01M542.2 487h.01M536 467.8h.01M533.8 467.5h.01M575.5 493.7h.01M536.3 471.9h.01M575 476.9h.01M533.2 482.3h.01M538.3 489h.01M522.6 465.7h.01M555.6 490h.01M555.5 499.7h.01M548.8 494.2h.01M573.6 484.9h.01M545.6 486h.01M534 461.2h.01M560.6 488.9h.01M532.1 462.2h.01M541.1 479h.01M572.9 473.7h.01M554 473.6h.01M555.7 476.2h.01M533.4 480.5h.01M574.8 476.9h.01M574.2 473.2h.01M543.5 497h.01M553.2 480.8h.01M546 484.8h.01M552.5 482.5h.01M546.4 482.8h.01M550.1 491.7h.01M512.6 480h.01M527 495h.01M508 476h.01M520 500h.01M518 486h.01M524.1 510.4h.01M503 537.2h.01M503.1 528.3h.01M514.6 532.6h.01M503.2 501.5h.01M504.9 547.8h.01M513.1 527.2h.01M507 527h.01M507.1 551.3h.01M503.1 495.1h.01M508 547.4h.01M512.1 548.1h.01M530.8 543.4h.01M536.6 505h.01M495.9 502.5h.01M534 513.3h.01M534 508.7h.01M507.8 533.4h.01M525.8 548h.01M487.7 513.2h.01M518.3 510h.01M503.3 535.3h.01M520 538.3h.01M504.4 535.9h.01M499.5 496.4h.01M527.1 522.3h.01M515.1 552.2h.01M505.2 521.3h.01M493.6 499h.01M528.2 550.6h.01M507.8 505.9h.01M517.2 548.9h.01M500.6 479.1h.01M523.3 534.5h.01M518.8 520.8h.01M508.5 502.8h.01M515.6 501.7h.01M532.5 511.3h.01M500.1 510.5h.01M500 506.6h.01M514.1 502h.01M498.8 517.2h.01M496.4 503.7h.01M506.5 509.2h.01M509.1 530h.01M507.4 527.5h.01M493.1 519.2h.01M508.5 510.3h.01M520.9 505.2h.01M511.4 538.5h.01M496.4 540h.01M520.4 517.6h.01M526.4 540.5h.01M503.7 480.6h.01M492.9 497.7h.01M493.6 520.3h.01M503.9 495.7h.01M525.7 541.2h.01M537.6 509h.01M507.9 533.7h.01M515.3 532.4h.01M513.8 505.9h.01M502.9 504.3h.01M491.4 512.8h.01M511.2 551.8h.01M522.9 522h.01M496.8 511.3h.01M491.6 504.1h.01M527.4 510.2h.01M496.7 539.1h.01M534.4 518.2h.01M524.8 525h.01M492.2 530.7h.01M534 523h.01M530.8 508h.01M522.2 519.4h.01M521.6 522.1h.01M524.1 509.7h.01M493.6 505.7h.01M530.1 526.5h.01M494.5 527h.01M529.6 524.7h.01M487.5 515.6h.01M494.7 493.8h.01M512.8 496.5h.01M499.8 490.7h.01M527 532.7h.01M528.9 547.3h.01M495.6 497h.01M532.9 521.8h.01M526 510.4h.01M487.5 503.5h.01M502.4 531.6h.01M518.8 531.2h.01M488.8 509.6h.01M517.4 539.4h.01M531.1 527.1h.01M529.5 521.6h.01M500.5 497.9h.01M512.1 502.2h.01M529.6 523.5h.01M526.9 510.6h.01M502.3 506.8h.01M506.3 508.2h.01M502.6 490.9h.01M494.9 495.2h.01M525.4 530.2h.01M486.3 514.3h.01M526 521.3h.01M491.5 506.3h.01M520.3 542.9h.01M509.8 497.3h.01M522.3 524.7h.01M530.6 509.2h.01M500.7 495.2h.01M516.4 531.6h.01M521.2 549.9h.01M529.2 544.6h.01M517.5 549.1h.01M524.3 517.2h.01M483.3 518.4h.01M502 501.9h.01M503.7 480.6h.01M510.3 551.8h.01M502.1 493.6h.01M506.2 544.6h.01M494.9 506.5h.01M508.2 529.3h.01M523.2 536.1h.01M505.7 541.4h.01M513.9 548.4h.01M502.6 550h.01M510.3 544.2h.01M536.1 502.6h.01M528.5 538h.01M498.6 493.2h.01M508 546.8h.01M526.6 538.3h.01M519.8 529.2h.01M508.8 538.5h.01M518.9 518.1h.01M484.2 521.3h.01M513.1 523.1h.01M487.3 505.3h.01M493.2 520h.01M533.2 524.4h.01M495.9 498.4h.01M502.4 526h.01M493.7 528.4h.01M505.4 506h.01M496.8 493.9h.01M504 541.7h.01M517.2 527.4h.01M488.1 526.3h.01M507.6 491h.01M505.5 518.7h.01M534.6 522.4h.01M502 526.5h.01M522 537.6h.01M513.2 506.7h.01M504.6 492.4h.01M505.1 494.3h.01M521 519.9h.01M518.4 551.2h.01M504.7 519.7h.01M515.1 543.9h.01M504.9 484.1h.01M535.7 520h.01M488.4 516h.01M495.5 497.2h.01M501 540.8h.01M526.7 507.1h.01M459.3 523.2h.01M437.5 553.4h.01M487.7 538.7h.01M485.8 557.4h.01M447.1 554.1h.01M467.7 532.6h.01M484.3 533.2h.01M482.7 590.4h.01M464.6 521h.01M464.4 527.2h.01M491.6 545.3h.01M434.9 558.6h.01M485.7 535.9h.01M482.9 535.8h.01M505.4 579.9h.01M476.7 538.7h.01M471.9 543.1h.01M490.6 572.8h.01M445.3 534h.01M443 586.3h.01M493.1 538.4h.01M495 564.4h.01M507.6 569.6h.01M519 564.5h.01M461.1 526.6h.01M452.2 592.7h.01M449.2 562.6h.01M440.1 542.1h.01M479.4 558.8h.01M497.3 552.4h.01M525.2 559.4h.01M500.1 579.1h.01M479.8 539.9h.01M437.6 559.8h.01M448.8 559h.01M460.2 569.6h.01M482.3 528.6h.01M451.1 589.7h.01M440.6 545h.01M484.5 548.2h.01M477.6 587.1h.01M493.8 553.6h.01M448.6 525.3h.01M499.8 582h.01M459.9 558.7h.01M455.9 574h.01M465.1 554.3h.01M489.2 588.7h.01M526.1 555h.01M432.9 543.2h.01M431.2 552h.01M456.7 586.1h.01M441.4 563.4h.01M435.4 541.1h.01M472.5 562h.01M491.3 565.2h.01M486.7 589.9h.01M491.7 558.3h.01M475.4 572.5h.01M485.5 574.6h.01M490.3 547.8h.01M495.5 552.5h.01M467.9 540.6h.01M495 559.1h.01M493 589.4h.01M495.3 545.2h.01M443 586.2h.01M475.3 571.4h.01M436.4 563.9h.01M482.9 540.8h.01M452.6 537.7h.01M466 526.7h.01M516.9 560.6h.01M510.7 573.1h.01M487.5 546h.01M453.5 526.2h.01M445.8 571.5h.01M450.4 528.5h.01M469.4 576.1h.01M462.7 531.7h.01M469.9 572.9h.01M450.4 542.5h.01M455 579.2h.01M468.6 574.7h.01M450.3 583h.01M450 524.2h.01M439.5 582.8h.01M458.6 529.4h.01M467.8 531h.01M483.5 541.3h.01M481.2 567.9h.01M476.9 560.3h.01M474.5 583.7h.01M503.6 584.2h.01M480 577h.01M459.9 522.6h.01M463 585h.01M483.8 577.7h.01M482 552.2h.01M509.8 562.1h.01M444.9 577.3h.01M462.2 528.1h.01M449.4 560.7h.01M463.6 527.5h.01M525.1 556.6h.01M436.2 551.1h.01M499.4 567h.01M476.2 550.8h.01M469.6 523.2h.01M527.1 559.9h.01M481.4 529.4h.01M467.8 527.7h.01M449.2 558.9h.01M445.2 573.2h.01M446.7 553.8h.01M484.2 586h.01M454.9 583.6h.01M495.9 559.3h.01M477.1 535h.01M513 573.1h.01M451.9 576.9h.01M452.8 552.1h.01M503.6 582.3h.01M462.3 562.8h.01M484.9 559h.01M453.4 575.8h.01M491.8 589.9h.01M452.7 554.7h.01M468.1 578.3h.01M494.8 583.6h.01M472.5 533.5h.01M459.4 569.3h.01M431.7 565.4h.01M455.3 567.8h.01M451.4 572.8h.01M486.9 558.9h.01M473.6 533.8h.01M472.3 580.4h.01M483.4 528.2h.01M511.9 569.9h.01M445.8 589.7h.01M478.8 522.3h.01M470.1 548.8h.01M457.5 529.1h.01M481.8 551.4h.01M480.3 530.7h.01M485.9 569.4h.01M506.7 563h.01M442.5 566.3h.01M512.3 563.6h.01M459.6 584.4h.01M509.6 578.5h.01M446.6 579.7h.01M439.7 577.3h.01M459.2 553.9h.01M485.5 562h.01M515.3 558.5h.01M480.3 532.8h.01M501.9 576.1h.01M458.8 592.6h.01M448.6 565.1h.01M437.4 568.8h.01M444 570.3h.01M436.9 575.8h.01M470.7 543h.01M456.7 552.9h.01M441.6 569.6h.01M488.4 547.8h.01M436.3 560.2h.01M453.9 547.7h.01M468 523.1h.01M475.4 529.1h.01M444 561.5h.01M506.8 563.7h.01M497.4 580.2h.01M452.9 549.9h.01M519 563.7h.01M487.6 562.7h.01M485.4 532.7h.01M488.5 549.3h.01M521.5 554.2h.01M436.1 555.9h.01M449.8 532.8h.01M445.9 590h.01M460.4 523.8h.01M508.4 560.2h.01M491.7 567.7h.01M443.9 535.5h.01M492.7 570.6h.01M495.2 550.5h.01M433.9 549.9h.01M487.5 544.5h.01M527.6 554h.01M452.6 569.6h.01M465.3 579.9h.01M521.4 555.6h.01M442.9 549.3h.01M478.6 554h.01M468.7 541.8h.01M482.7 574.3h.01M494.9 585.2h.01M472.7 567.7h.01M452.5 570.5h.01M441.4 569.3h.01M460.5 571.4h.01M467.3 565.9h.01M449.1 561.2h.01M485.2 564.1h.01M453.8 569.5h.01M498.2 568.8h.01M455.4 562.4h.01M481.1 581h.01M469.4 593.7h.01M484.3 564.1h.01M475.6 587.2h.01M470.1 565.5h.01M435.2 555.5h.01M459.9 583h.01M449.8 531.1h.01M475.1 529.2h.01M445.7 559.7h.01M513.6 569.8h.01M478.9 574.3h.01M477.5 576.6h.01M498.4 579.3h.01M506.9 553.6h.01M488.3 579.1h.01M507.9 558.7h.01M505.1 581h.01M510.9 565.6h.01M483.7 568.5h.01M476.3 578.7h.01M497.8 577.6h.01M492 560.5h.01M504.4 555.1h.01M497.3 556.6h.01M495.4 564.2h.01M513.1 555.8h.01M486.4 565.3h.01M483.2 562.7h.01M477.1 581.4h.01M488.7 553.6h.01M482 562.6h.01M482 565h.01M490.3 584.7h.01M475.8 580h.01M476.6 586h.01M480.2 588.6h.01M504.7 564.6h.01M481.1 579h.01M499.6 577.2h.01M490.6 564.3h.01M501.4 557.5h.01M505.2 554.2h.01M568.9 516h.01M570 517.7h.01M570.4 518.4h.01M572.3 518.2h.01M572.6 521.8h.01M573.5 522h.01M576 523h.01M576.7 524.1h.01M576.4 525.2h.01M577.9 525.9h.01M579.6 529.7h.01M581 529.7h.01M581.5 531.7h.01M584.3 533.7h.01M585.7 534.1h.01M587.1 536.3h.01M587.5 537.7h.01M590.5 539h.01M591.5 537.8h.01M592.1 539.9h.01M594.6 540.7h.01M594.1 541.2h.01M594.7 541.9h.01M596.8 542.7h.01M598.3 544.9h.01M600 545.6h.01M602.7 547.3h.01M603.5 547.2h.01M604.3 548.1h.01M604 549h.01M607 551.6h.01M609 552.4h.01M548.9 444.9h.01M572.9 481.7h.01M556.6 441.7h.01M581.1 440.1h.01M584.1 450.9h.01M583.4 470.1h.01M568.8 471.8h.01M554.1 468.3h.01M572.6 445.4h.01M570.6 443.8h.01M561.2 457h.01M571.9 453.6h.01M553.7 462.9h.01M567.5 441.2h.01M576.5 441.9h.01M572.9 472.4h.01M563.8 472.2h.01M560 459.4h.01M549.2 463.2h.01M547 441.8h.01M581.1 435.8h.01M551.5 465.4h.01M583.9 445.4h.01M583.5 437.3h.01M561.7 446.9h.01M551.4 442.1h.01M554.6 466.6h.01M542 437.7h.01M580.1 473h.01M571 441.8h.01M578.7 455.4h.01M583.3 478.8h.01M568.2 449.3h.01M546.5 454.9h.01M559.5 441.1h.01M553.3 459.3h.01M574.8 478.7h.01M581.8 479.7h.01M548.2 438.2h.01M542.3 455.2h.01M573 482.4h.01M558.5 470.4h.01M550.2 455.5h.01M565.6 451.3h.01M577.1 475h.01M584.9 439.2h.01M558.6 463.8h.01M560 477.1h.01M564.9 476.9h.01M563.9 476.8h.01M566.3 468.6h.01M564.4 466.7h.01M573.7 471.8h.01M573.2 470.6h.01M577.3 467.5h.01M579.9 471.7h.01M581.8 473.2h.01M583.7 467.3h.01M587.8 475.3h.01M590.8 467.9h.01M594.2 471.3h.01M597 474.6h.01M601.5 474.5h.01M604 468.6h.01M604.1 466.5h.01M607.7 468.5h.01M609 473.2h.01M614.4 467.6h.01M620.6 475.9h.01M622.8 462.2h.01M621.5 465.6h.01M628.6 472.1h.01M626.4 465.5h.01M637.2 466.8h.01M638.9 469.6h.01M646.7 465.5h.01M650.3 461.9h.01M644.3 462.1h.01M649.8 465.2h.01M661.4 468.7h.01M659.5 465.7h.01M664.1 461.4h.01M667.4 459.8h.01M669 461.8h.01M675.7 460.5h.01M680.6 462.4h.01M661.8 429h.01M609.8 460.6h.01M595.3 446.9h.01M650.9 452.9h.01M594.3 450.6h.01M629 451h.01M660.1 464.4h.01M604.1 473.6h.01M607.7 435h.01M651.9 429.8h.01M647 463.2h.01M663.2 439.5h.01M599.1 472h.01M672.2 453.4h.01M596.3 470h.01M589.3 444.8h.01M612.5 441.8h.01M625.6 463.5h.01M632.8 447.5h.01M619.2 432.5h.01M678.3 455.2h.01M610.1 435.3h.01M633.8 435.4h.01M665.7 440.5h.01M616 446.6h.01M594.5 435.3h.01M634.8 445.6h.01M654 456.2h.01M594.4 440.1h.01M673 434.7h.01M595.2 444.1h.01M661.9 453.9h.01M659.5 446h.01M618.1 434.4h.01M612.5 470.2h.01M611.9 448h.01M688 436.8h.01M589.2 463.3h.01M673 456.7h.01M678 436.7h.01M651 441.4h.01M678.2 430.5h.01M629 450.9h.01M587.6 470.2h.01M585.9 437h.01M678.3 454.8h.01M595.2 438.9h.01M670.2 436.9h.01M632.4 466.1h.01M619.8 467.5h.01M624.3 464.8h.01M639.1 434.8h.01M619 444.2h.01M676.2 441h.01M595.2 474.5h.01M628.5 433.9h.01M628.3 467.8h.01M608.6 455.6h.01M610.5 427.7h.01M598.1 454.7h.01M595.1 432.5h.01M610.8 443.8h.01M631.9 440.2h.01M588.6 474.2h.01M658.9 435.9h.01M586.1 443.1h.01M641.9 437.5h.01M643.3 435.3h.01M659.5 449.3h.01M655.9 435h.01M601.9 447.7h.01M649.4 453.3h.01M655.4 458.4h.01M608.4 458.6h.01M678.5 451.9h.01M638.7 468.7h.01M595.5 435.6h.01M597.2 431.5h.01M626.3 464.6h.01M604.9 428.2h.01M640.1 454.8h.01M666.9 447h.01M683.6 428.5h.01M634.8 454.4h.01M686.1 441.4h.01M592.2 474.8h.01M591.2 432.6h.01M588.9 452.4h.01M662.4 452.8h.01M618.2 442.2h.01M649.9 450.7h.01M679.1 459.6h.01M637.5 452.4h.01M607.3 457.9h.01M617.5 452.4h.01M654.2 430.7h.01M591.8 454.9h.01M671.6 441.2h.01M620.8 432.4h.01M611.7 470.4h.01M614.3 457.8h.01M614 428.8h.01M609.1 433.2h.01M633.6 458h.01M658.4 459h.01M676.7 432.2h.01M587.1 475.9h.01M681.7 443h.01M635.6 444.7h.01M630.4 469.3h.01M638.7 441.2h.01M591.8 461h.01M600.2 442.7h.01M612.8 430.3h.01M670.2 447.9h.01M612.6 442.1h.01M661.9 448.6h.01M588.4 444.1h.01M674.1 433.5h.01M622.3 432.8h.01M605.5 444.8h.01M653.2 453.6h.01M651.9 448.4h.01M643.9 463.8h.01M634.1 463.8h.01M615.5 433.2h.01M649.5 438.8h.01M681.4 438.5h.01M642 465h.01M590.9 468.6h.01M638.4 467.8h.01M618.5 467.1h.01M660.4 463.6h.01M611.6 441.4h.01M596 448.5h.01M621.5 443.7h.01M618.5 453.7h.01M628.6 469.5h.01M649.5 467h.01M628.8 465h.01M636.3 435.5h.01M669.4 446.7h.01M643.5 461.4h.01M667.9 461.1h.01M613.7 447h.01M613.3 467.7h.01M603.5 465.5h.01M614.9 444.2h.01M653.7 446h.01M672.1 435.3h.01M676 440h.01M665 436.3h.01M676.7 435.9h.01M687.3 428.5h.01M667.4 427.8h.01M661.9 436.1h.01M673.2 429h.01M664.8 435.8h.01M681.4 428.8h.01M670.6 427.8h.01M679.6 433.9h.01M668.5 444h.01M686.5 427.4h.01M676.4 434.4h.01M663.3 435.2h.01M671 447.2h.01M680.4 446.1h.01M683.8 436.4h.01M684.4 435.5h.01M687.5 431.4h.01M671.1 438.3h.01M684.6 433.8h.01M662.8 457.8h.01M663.6 457.1h.01M660.8 455.5h.01M672.6 454.6h.01M675.4 461.3h.01M670.1 455.3h.01M500.3 465.8h.01M505.7 466.2h.01M507.4 466.2h.01M506.9 466.3h.01M514 469.1h.01M507.5 472.4h.01M517.4 470.9h.01M516.3 469.7h.01M517.1 467.9h.01M519.6 470.1h.01M519 471.8h.01M526.2 469.4h.01M526.1 473.8h.01M529.3 471.2h.01M526.7 472.7h.01M536 474h.01M533.8 478h.01M535.2 470.3h.01M536.9 475.2h.01M536.3 474.7h.01M538.1 474.8h.01M547.3 480.5h.01M563.5 470.7h.01M569.7 471.3h.01M591.7 466.2h.01M636.9 407h.01M631.9 418.3h.01M625.7 391h.01M604.9 386.3h.01M624.9 402.2h.01M605.1 396.1h.01M627.5 407.8h.01M638.8 420.4h.01M616.3 399.5h.01M605.6 388.6h.01M617.8 383.3h.01M626 417.8h.01M630.9 413.9h.01M615.3 403.2h.01M619.9 414.6h.01M603.3 386.2h.01M612.7 384.9h.01M637.5 419.5h.01M648.6 421.7h.01M613.8 387.1h.01M608 386.8h.01M617.2 380.3h.01M639.3 408.6h.01M614.5 407.7h.01M631.9 412.4h.01M601.3 386.3h.01M610.8 383.9h.01M622.3 395.1h.01M642.7 417.3h.01M618.7 405.5h.01M627.3 393.6h.01M624.5 389.3h.01M613.4 404.8h.01M618.3 398.5h.01M602.3 387.4h.01M620 412.8h.01M624.2 396.6h.01M625.9 415.7h.01M628.2 404h.01M616.4 387h.01M627.9 421.5h.01M616.4 395.9h.01M643.4 422.5h.01M615.5 390.6h.01M617.7 388h.01M605.4 381.7h.01M641.9 418h.01M618 384.4h.01M615.4 389.1h.01M630.4 397.3h.01M634 408.1h.01M616.1 403.1h.01M608.7 396h.01M634.4 408.5h.01M643.6 420.6h.01M636.3 418.8h.01M647.3 421.8h.01M613.8 380.8h.01M645.2 418.2h.01M622.2 402h.01M613.5 397.5h.01M637 414.1h.01M619 394.9h.01M634.9 401.4h.01M618.5 400.7h.01M606.8 393.2h.01M630.6 406.1h.01M625 408.5h.01M622.1 394.6h.01M613.9 403.1h.01M626.1 411.1h.01M628.1 400.1h.01M622.2 394.9h.01M627.9 398.4h.01M626.7 404.2h.01M613.5 379.9h.01M635.1 419.4h.01M617.6 389.7h.01M623.6 409.5h.01M615.4 390.9h.01M612.6 402.5h.01M614.8 388.2h.01M646 420.6h.01M604.9 389.3h.01M639.9 421h.01M638.4 404.2h.01M621.4 406.9h.01M622.7 412.3h.01M612.4 383.6h.01M616.8 395.7h.01M637.8 413.7h.01M627.1 408.8h.01M639.8 415.7h.01M616.2 388.1h.01M603.1 385.1h.01M624.4 391.2h.01M601.9 391.2h.01M645.1 422.5h.01M635.5 408.9h.01M603.9 391.2h.01M626.6 391.2h.01M630.5 400h.01M617 391.6h.01M633.4 398.4h.01M614.6 394.6h.01M612.3 401h.01M610.6 384.2h.01M628.7 411.5h.01M606.5 397.3h.01M610.4 402.8h.01M637.9 404.8h.01M619.6 408.9h.01M632.1 420.8h.01M622.4 394.6h.01M620.9 405.2h.01M626.6 409.3h.01M614.3 390.9h.01M616.3 408.8h.01M631.6 402.5h.01M640.2 414.7h.01M612.8 398.1h.01M618.8 383.2h.01M613.9 393.8h.01M609.2 389h.01M620.9 405h.01M639 417h.01M595.9 404.9h.01M594.5 412.6h.01M598.7 419.2h.01M601.4 397.6h.01M696.4 458.1h.01M693.9 423.8h.01M733.2 471.7h.01M724.6 463.2h.01M701.3 427.3h.01M721.4 450h.01M708.3 453.2h.01M703 441.7h.01M719.9 467.9h.01M717.6 443h.01M701 450h.01M717.2 447.9h.01M722.4 457.4h.01M703.9 465.3h.01M702.4 445.3h.01M691.8 452.9h.01M714.2 443.1h.01M710.5 436.6h.01M710.6 427.8h.01M694.6 463.5h.01M726.2 466.2h.01M718.5 472.1h.01M706.4 441.8h.01M735.7 466.3h.01M704.1 436.4h.01M722.9 447.2h.01M693.7 467.3h.01M695 451.2h.01M707.6 432.2h.01M715.7 449h.01M716.3 465.9h.01M720.6 471.2h.01M709.1 426.8h.01M739.4 461.2h.01M702.8 432.7h.01M701.3 448.7h.01M707.7 454.8h.01M712.7 448.6h.01M734.1 454.3h.01M702.1 429.9h.01M693.3 464.7h.01M692.8 465h.01M726.5 476.1h.01M728.1 474.2h.01M714.8 457.3h.01M700.4 465.1h.01M711.5 474.4h.01M706.5 458.8h.01M702.6 423.5h.01M692.6 458.6h.01M712.9 469.3h.01M695.5 434.7h.01M730.2 458.8h.01M706.7 464.8h.01M698.3 437.9h.01M708.9 445.6h.01M692.9 452.1h.01M697.9 464.7h.01M695.2 467h.01M706.7 450.4h.01M711.8 453.1h.01M699.6 460h.01M726.1 467.8h.01M712 474.1h.01M697 450.8h.01M710.4 469.2h.01M704 427.3h.01M709.9 455.5h.01M709.6 442.9h.01M703.6 450.2h.01M704.3 423.8h.01M696.2 439h.01M704.2 436.8h.01M731.1 452.8h.01M702.4 424.6h.01M725.1 467.7h.01M724.8 460.5h.01M719 447.3h.01M711.5 455.6h.01M703.9 452.7h.01M695 461.2h.01M694.9 463.5h.01M701.9 448.7h.01M720.7 441.3h.01M699 426h.01M729.2 466.5h.01M731.8 475.1h.01M724.2 441.4h.01M735.9 463.5h.01M735.4 474h.01M709.2 431.7h.01M722 459.5h.01M703.8 444.7h.01M731.4 466.3h.01M720.8 437.4h.01M697 464.4h.01M713.3 427.7h.01M698.3 457.9h.01M730.9 473.6h.01M722.2 462.6h.01M731 449.1h.01M697.2 456h.01M708.6 449.3h.01M708.3 454.8h.01M697.1 448.4h.01M700.7 463.1h.01M702.2 469.6h.01M731.2 452.3h.01M711.2 451.7h.01M705.9 448.5h.01M717.3 463.6h.01M688.6 463.5h.01M728.5 462.3h.01M698.3 457.2h.01M725.6 461.6h.01M710.8 437.3h.01M721.9 455.1h.01M702.4 437h.01M701.2 431.6h.01M712.3 471.5h.01M737.7 458.8h.01M733.6 464h.01M696.2 457h.01M694.8 436.4h.01M731.5 467.6h.01M696.6 420.7h.01M717 445.9h.01M717.6 462.8h.01M738.6 465.9h.01M736 457h.01M706.3 445.7h.01M731 450.4h.01M708.3 428.5h.01M720.9 469.4h.01M695.1 447h.01M709.7 451h.01M707.9 453.6h.01M701.8 444.5h.01M694.1 447.8h.01M725.5 449.5h.01M701.2 444.2h.01M733.8 452.3h.01M719.3 467.4h.01M698 435.9h.01M701.8 455h.01M702.8 455.4h.01M728.3 445.4h.01M721.8 466.3h.01M708.1 437.7h.01M693 452.9h.01M734.8 461.7h.01M693.9 461.3h.01M701.6 425.3h.01M715.5 457.8h.01M728.2 468.5h.01M691.9 458.1h.01M709.9 468h.01M704.8 439.8h.01M689.6 457.6h.01M718.8 439.3h.01M727.6 452.6h.01M708.3 453.3h.01M735.5 466.2h.01M697.2 458.9h.01M707.7 444h.01M707.9 423.5h.01M698.5 422h.01M696.5 441h.01M739.4 461.2h.01M716 464.5h.01M692.8 460.1h.01M709.2 429.5h.01M700.8 428.6h.01M702.9 431.4h.01M715.3 464.8h.01M696.6 466.3h.01M720.4 440.7h.01M712.8 435.6h.01M709.3 454.8h.01M727.9 449.8h.01M712.7 440.5h.01M727.9 461.2h.01M712.2 441.1h.01M723.6 456.3h.01M719.3 460.7h.01M698.2 447.1h.01M710.8 472.2h.01M716.7 437h.01M695.1 446.4h.01M697.5 447.8h.01M716.1 454.4h.01M714.6 463.8h.01M713.1 476.3h.01M704.2 430.8h.01M727 453.7h.01M702.1 444.9h.01M711.3 447.7h.01M714.2 475.5h.01M698.3 448.1h.01M697.2 424.8h.01M726.3 459.7h.01M710.7 448.3h.01M693.9 424h.01M723.3 455.6h.01M725.1 461.2h.01M728.1 475.6h.01M732.6 449h.01M710.5 470h.01M717.4 435.6h.01M277 536h.01M179 550.4h.01M181.1 551.3h.01M219.7 562.2h.01M214.6 548.4h.01M203.6 555.1h.01M231.8 525.8h.01M158.5 553.8h.01M255.5 543.3h.01M193.2 537.4h.01M185.1 546.8h.01M193.7 514.9h.01M206.2 514.4h.01M271.3 527.1h.01M209.6 517.6h.01M214.8 520.9h.01M242.1 549h.01M185.4 539.6h.01M175.8 536.9h.01M210 557.5h.01M190.6 548.4h.01M217.8 550.1h.01M230.5 522.4h.01M193.8 523.1h.01M221.4 513.6h.01M197.9 529.4h.01M191.2 554.3h.01M202.1 526.8h.01M192.6 534.1h.01M202.3 553.7h.01M183.5 539.1h.01M193.7 542.6h.01M175.8 558h.01M221.2 512.7h.01M203.5 517.7h.01M196.3 562.2h.01M268.4 527.1h.01M192.9 545.5h.01M199.6 527.1h.01M261.2 536.8h.01M170.5 553.3h.01M178.5 525.8h.01M217.1 536.6h.01M259.9 530.3h.01M238.5 537.7h.01M156.5 538.4h.01M214.2 544.3h.01M157.9 536.9h.01M222.3 559h.01M211.7 542.6h.01M219.2 538.7h.01M184.9 548.1h.01M220.2 531h.01M172.8 524.2h.01M218.4 525h.01M196.7 560.6h.01M181.6 538.4h.01M251.6 536.5h.01M208.9 539h.01M213.2 519.5h.01M191.2 565.2h.01M205.6 558.3h.01M180.4 538.6h.01M174.1 563.8h.01M270.1 534.5h.01M217.3 527.7h.01M179.5 537.8h.01M165.7 544.9h.01M225.3 526.1h.01M191.4 529.1h.01M206.1 563.1h.01M192.7 514.9h.01M172.1 541.6h.01M251.7 539h.01M171.7 540.3h.01M218.4 552.2h.01M239 520.6h.01M260.2 539.6h.01M206 528.8h.01M201.6 555.5h.01M209.1 533.4h.01M156.4 538.8h.01M218.4 544.9h.01M207.2 567.3h.01M193.6 521h.01M235.2 541.1h.01M180.8 522.8h.01M172.5 562.8h.01M211 519.5h.01M196.8 553.7h.01M207.1 520.6h.01M197.4 523.6h.01M264 524.3h.01M185.6 558.8h.01M243.3 549.5h.01M241.6 519.4h.01M230.7 550.2h.01M184.4 554.2h.01M254.3 541.2h.01M197.8 534.1h.01M164.7 552.6h.01M238.4 541.3h.01M221.4 558.9h.01M256.1 543.4h.01M224.9 534.2h.01M207.2 542h.01M217.8 507.8h.01M230.8 552.7h.01M180.1 514.5h.01M203.9 560h.01M249.9 537.2h.01M263.6 540.8h.01M257.9 537.5h.01M248.4 524.7h.01M181.2 516.4h.01M153.5 550.9h.01M180.6 543.9h.01M222.5 554.2h.01M165.7 535.9h.01M198.6 539.8h.01M182 517.3h.01M182.4 547.6h.01M283.5 531.6h.01M186.4 538.8h.01M204.9 524.4h.01M188 548.7h.01M213.2 523.2h.01M178.4 517.5h.01M203.8 555.6h.01M172.4 526.8h.01M245.7 541.1h.01M154.9 540.3h.01M197.5 520.1h.01M202.8 549.7h.01M249.8 533.9h.01M176.2 560.6h.01M234 514.5h.01M200.4 563.6h.01M206.8 528.2h.01M217.8 547.4h.01M176 546.2h.01M203.5 549.7h.01M192.7 524.4h.01M163.9 552h.01M174.8 558.3h.01M180.4 521.7h.01M218.7 522.6h.01M190.9 515h.01M272 534.1h.01M259.9 536.9h.01M234.8 533h.01M158.4 540.9h.01M245 548.5h.01M264.2 529.6h.01M218.3 505.2h.01M193 550.4h.01M269.4 534.6h.01M224.9 541.7h.01M174.9 529.8h.01M259.1 541.5h.01M173.6 526.8h.01M214.2 530.4h.01M181.2 558h.01M233.4 519.6h.01M279.2 532.4h.01M200.7 536.6h.01M198 545.9h.01M193.4 536.1h.01M184.2 521.9h.01M187.4 528.1h.01M250.6 547.9h.01M188.5 552.1h.01M170 549.2h.01M196.4 522.4h.01M199.2 538.9h.01M177.9 544.7h.01M187.1 561.9h.01M214.2 525.4h.01M257.7 527.6h.01M174.5 551.1h.01M248.9 529.6h.01M249.4 524.8h.01M211.7 532.1h.01M158.8 540.6h.01M177 562.8h.01M171.5 546.1h.01M188.8 521.5h.01M205.7 557.6h.01M197.6 556h.01M210.9 556.2h.01M190.5 534h.01M258.4 523.8h.01M165 529.9h.01M229.3 545.1h.01M155 540.3h.01M177.4 537.2h.01M221.2 531.9h.01M152.2 550.9h.01M197.6 523.3h.01M226.3 543.6h.01M221.8 559.3h.01M216.3 565.1h.01M245.8 539.4h.01M172.1 562.8h.01M175.6 522.5h.01M233.7 551.7h.01M264.8 533.9h.01M199.9 534.2h.01M189.2 527h.01M270.7 530.3h.01M190.6 511.5h.01M256.3 540h.01M251.1 542.2h.01M210.1 560.8h.01M166.8 558.5h.01M152 543h.01M232.5 527.6h.01M186.3 534h.01M229.5 550.1h.01M255.2 545.4h.01M188.2 567.7h.01M225.6 529.2h.01M237.4 541h.01M188.5 532.7h.01M262.7 526.3h.01M223.2 535.9h.01M201.2 516.3h.01M256.1 536.7h.01M221.1 549.7h.01M209.8 517.4h.01M231.5 539.1h.01M223.1 550.7h.01M187.4 515.8h.01M229.4 521.7h.01M193 526.5h.01M185.8 551.2h.01M191.4 556.8h.01M173.3 550.8h.01M212.8 561.9h.01M180.4 545.3h.01M212.2 517.8h.01M190.9 557h.01M247.8 531.1h.01M174.6 563.6h.01M232.2 560.5h.01M206.5 536.4h.01M247.9 525.1h.01M205.5 553.7h.01M168.3 556.6h.01M260.9 526.8h.01M158.5 537.2h.01M169.3 531.9h.01M196.6 558.3h.01M230.5 545.3h.01M211.1 558.5h.01M200.4 514.8h.01M164.1 534.3h.01M200.7 551.7h.01M224.1 525.2h.01M217.9 561.9h.01M213.4 546h.01M201.3 515.6h.01M241.2 533.8h.01M227.1 535.7h.01M239.6 548.1h.01M181.2 536.8h.01M194.3 543.5h.01M278.3 534.6h.01M254.9 520.7h.01M169.8 539.9h.01M194.5 564.3h.01M164.4 544.6h.01M250.1 530.4h.01M184.3 557.9h.01M249.3 539.7h.01M173.7 536.2h.01M164.3 536.9h.01M224.2 522.6h.01M191.1 519.8h.01M226.8 548.1h.01M234.3 559.6h.01M206.1 546.9h.01M226.4 512.6h.01M210.4 547.8h.01M189 540.1h.01M280.6 530h.01M199.2 520.4h.01M218.9 512h.01M235.3 539.9h.01M246.4 548.6h.01M210.6 543.6h.01M206.1 527.2h.01M161.7 540h.01M244.7 525.4h.01M246.5 524.8h.01M219.3 512.4h.01M227 532.7h.01M224.9 537.8h.01M220.2 529.6h.01M223 512.9h.01M232.3 527h.01M200.2 545.5h.01M195.8 527.5h.01M255.5 529h.01M220.6 551.5h.01M218.9 512.1h.01M231.2 533h.01M218.6 515.3h.01M249 539.5h.01M195.2 522.1h.01M222.8 545.2h.01M231.2 558.3h.01M211.3 544.3h.01M175.7 557.4h.01M223.8 523.6h.01M208.6 521.6h.01M223.7 552.2h.01M248.2 545.4h.01M164.7 542.2h.01M218.8 508.6h.01M221.2 558.9h.01M262.3 529.7h.01M191.9 549.4h.01M211.2 538.5h.01M252.6 549.2h.01M263.4 525.2h.01M213.7 534.3h.01M169.6 558.4h.01M228.7 539.3h.01M206.1 535.2h.01M228.3 514.1h.01M245.1 532.5h.01M214.7 545.1h.01M169.5 531h.01M219.7 519.9h.01M254.1 530.4h.01M165.7 545.2h.01M192.2 529.9h.01M204.9 559.8h.01M275.1 536.5h.01M191.5 518.9h.01M206.4 525.6h.01M199.3 547.6h.01M238.9 539.5h.01M188.4 538.5h.01M201.4 537h.01M199 526.6h.01M236.4 553.8h.01M238.4 551.9h.01M251.3 544h.01M186.5 542.4h.01M195.5 518h.01M220.7 550.4h.01M216 529.7h.01M283 530.8h.01M288.7 530.2h.01M181.7 511.7h.01M169 519.5h.01M162.2 533.8h.01M151 541.7h.01M153.2 555.2h.01M203.4 556.1h.01M193 549.6h.01M227.2 532h.01M188.4 553.4h.01M194.5 542.8h.01M239 524.5h.01M214.4 545.2h.01M211.7 560.9h.01M184.5 529.7h.01M200.9 518.2h.01M211.5 522.4h.01M205.4 547.9h.01M185 537.7h.01M210.6 534.1h.01M184.8 541h.01M181.5 520.9h.01M207.8 545.5h.01M236.7 527.3h.01M226.8 518.3h.01M193.3 563.2h.01M205.9 520.4h.01M221.4 554.2h.01M192.4 526.7h.01M181.1 528.7h.01M221.4 553.1h.01M238.8 523.3h.01M204.6 545.2h.01M189.3 530.1h.01M177.3 556.2h.01M201.3 558.6h.01M207.8 524.6h.01M214.2 559.9h.01M235.3 530.6h.01M231.9 523.1h.01M191.4 534.2h.01M233.9 528.7h.01M230.4 534.8h.01M212.5 554.2h.01M233 525.7h.01M207.8 558.7h.01M178.2 553.3h.01M191.1 557.1h.01M186.4 543.4h.01M175.4 540.7h.01M184.9 559.8h.01M210.6 530.2h.01M204.2 527.1h.01M191.7 563h.01M182 553.3h.01M190.7 560.6h.01M219 537.6h.01M237.2 523.1h.01M215.9 517.3h.01M181.1 535.9h.01M220.5 519.9h.01M186.1 522.2h.01M220.3 536h.01M185.3 518.2h.01M191.5 542.2h.01M210.8 539.4h.01M177.4 534.6h.01M223 550.2h.01M183.8 553.3h.01M203.9 532.3h.01M175.5 529.4h.01M206.5 555.5h.01M238.4 525.5h.01M196.3 521.3h.01M206.5 533.8h.01M225.6 551.2h.01M209.5 543.7h.01M235.8 530.8h.01M207 553.2h.01M192 544.3h.01M183.3 533.5h.01M195.3 520.7h.01M204.6 545.1h.01M208.1 536.9h.01M204.7 542.2h.01M196.1 520.1h.01M223.7 556.6h.01M184.9 524.8h.01M198.8 540.9h.01M195.3 549.9h.01M226.9 549.6h.01M218 554.6h.01M213.6 534.8h.01M202.9 519.7h.01M224.8 543.9h.01M236.6 521.8h.01M215.7 542.1h.01M206.5 560.2h.01M176.6 534.4h.01M221.7 539h.01M199.1 532.8h.01M204.5 544.1h.01M183.7 546.2h.01M205.8 540.5h.01M208.7 529.2h.01M193 535.6h.01M195.5 537.1h.01M225.3 516.6h.01M188.7 537.5h.01M214.6 520.9h.01M190.3 542.3h.01M207.3 534.2h.01M208.1 553.1h.01M206.8 540.9h.01M182.4 530.9h.01M212.1 550.4h.01M187 561.3h.01M184 542.3h.01M212.3 536.9h.01M205.3 552.9h.01M178.6 555.4h.01M223.5 522.8h.01M220.4 549.2h.01M174.6 547h.01M233.5 506.5h.01M235 504.2h.01M241 502.7h.01M244.7 499.7h.01M245.5 503.5h.01M250 508h.01M245.5 511.7h.01M253.7 491.5h.01M256.7 487.7h.01M261.2 486.2h.01M265 487.7h.01M263.5 493.7h.01M259 492.2h.01M257.5 490h.01M218.5 566.5h.01M223 566.5h.01M229 568h.01M239.5 563.5h.01M241.7 569.5h.01M237.2 574h.01M219.2 571.7h.01M221.5 577h.01M226 577.7h.01M231.2 578.2h.01M239.5 571.7h.01M335.1 837.6h.01M349.6 825.5h.01M374.7 740h.01M392.1 835.7h.01M367.5 756.4h.01M375.9 835.8h.01M327.7 773.4h.01M395 799.3h.01M374.8 804.2h.01M305.7 817.2h.01M410.5 819.4h.01M402.6 824.8h.01M338.8 823.7h.01M342.1 844.6h.01M414.6 815h.01M299.5 829.7h.01M335.3 850.9h.01M399.1 769.9h.01M371.3 737.1h.01M335.5 785.8h.01M306.3 828.9h.01M407.1 829h.01M365.5 816h.01M352.2 860.1h.01M382.9 729.8h.01M347.6 766.2h.01M318.5 780.3h.01M308.1 848h.01M350 826.3h.01M389.1 846.4h.01M370 834.8h.01M359.9 846h.01M339.7 846h.01M397.4 836.2h.01M367.7 777.8h.01M346.4 731.7h.01M403.2 834.8h.01M408.3 837.5h.01M379.4 760.6h.01M384.8 787.5h.01M392.2 818.3h.01M348.7 729.5h.01M334.6 729.6h.01M369.1 756.9h.01M338.1 759.5h.01M333.1 850.6h.01M360.8 723.9h.01M385.2 732.8h.01M327.6 742.8h.01M397.1 769.3h.01M403.9 813.3h.01M316.1 814.7h.01M379.5 845.4h.01M312.7 831.2h.01M340.2 797.1h.01M372.8 777.8h.01M352.6 848.1h.01M369.1 821.9h.01M302.5 809.9h.01M333.7 848.7h.01M365 853.1h.01M369.9 818.9h.01M357.6 841.7h.01M403.7 795.3h.01M418.2 836.4h.01M374.8 731.8h.01M394.8 850h.01M365.6 802.8h.01M418 821.3h.01M320.2 794.9h.01M395.5 871.4h.01M335.8 735.4h.01M315.4 842.2h.01M381.4 839.2h.01M324.5 844h.01M400 770.7h.01M367.3 803.3h.01M407.8 814h.01M330.6 765h.01M371.9 834.4h.01M368.9 840.5h.01M343.3 847.3h.01M354.1 765h.01M337.3 793h.01M391.7 802.9h.01M404 787h.01M381.1 857h.01M334.6 832.1h.01M362.5 825.5h.01M365.6 777.5h.01M333.5 845.9h.01M337.2 755.1h.01M343.1 827.3h.01M316.8 787.4h.01M315 820.5h.01M299.8 844.3h.01M398.4 791.3h.01M330.9 818.6h.01M343.1 772.2h.01M395.2 860.4h.01M334.2 797.1h.01M377.9 847.7h.01M322.8 839.1h.01M342.3 851.5h.01M335 790h.01M349.6 833.2h.01M332.3 822.6h.01M363.5 762.7h.01M327.5 791.9h.01M364.7 865.3h.01M326.2 801.5h.01M337.5 777.9h.01M415.9 838.1h.01M372.3 793.1h.01M385.6 816h.01M384.3 840.8h.01M414.8 831h.01M348.7 729.3h.01M334.3 730h.01M380.8 803h.01M386.6 756.7h.01M406.7 787.7h.01M340.6 825.1h.01M380.2 868.7h.01M326.8 824.3h.01M352.6 838.9h.01M306 845.7h.01M397.8 810.7h.01M328.6 754.8h.01M402.3 801.9h.01M344.6 856.5h.01M334.3 773.9h.01M362.2 729.8h.01M323.5 768.3h.01M352.4 862.8h.01M336 802.9h.01M404.4 802.7h.01M377.4 776.6h.01M415.6 823.8h.01M400.4 782.4h.01M393.3 764.7h.01M392.3 822.7h.01M305.6 835.9h.01M313.8 847.8h.01M351.7 768.2h.01M334.4 841.4h.01M311.2 811.4h.01M381.2 731.7h.01M332.3 816.8h.01M348.7 768.1h.01M377.5 823.2h.01M325.8 742.8h.01M319.7 852.6h.01M369.6 768.7h.01M331.8 852.6h.01M369.6 801h.01M341.3 735.3h.01M338.9 767.8h.01M377 790.8h.01M387 763.1h.01M413.8 830.7h.01M317.2 830.2h.01M336 803.6h.01M390.5 792h.01M361 739.9h.01M312.9 808.8h.01M314.1 824.6h.01M361.2 841.8h.01M327.7 798.2h.01M366.6 785.5h.01M320.3 793h.01M370.6 742h.01M402.3 838.3h.01M391.5 769.4h.01M410.6 817.9h.01M320.5 781.1h.01M366.8 804h.01M344.1 843.4h.01M414.3 817.8h.01M382.4 841.4h.01M372.2 752.1h.01M350.7 771.8h.01M344.6 757.2h.01M311.1 846.6h.01M373.3 795.9h.01M378 783.8h.01M344.6 769h.01M340.2 727h.01M412.2 822.2h.01M363.7 805.1h.01M351 802.7h.01M382.3 771.1h.01M369.6 729.8h.01M328.4 780.8h.01M399.9 831.2h.01M364.7 735.8h.01M370 753.6h.01M320.9 801h.01M357 745h.01M308.8 818.5h.01M392.5 837.6h.01M365.9 743.2h.01M393 823.7h.01M395.4 841h.01M346.3 776.7h.01M345.3 823.3h.01M316.8 806.6h.01M334 790.2h.01M386.9 783.5h.01M342.7 737.5h.01M410.3 825h.01M307.7 822.8h.01M342.2 768.5h.01M385.5 804.9h.01M346.6 800.7h.01M384.3 788.6h.01M320 785.6h.01M352.7 753.9h.01M307.5 848.3h.01M363 724.3h.01M354 841.3h.01M357.7 784.1h.01M353 770.8h.01M345.5 765.1h.01M398.7 840.2h.01M292.3 829.1h.01M313.4 849.7h.01M398 810.2h.01M339.2 764.8h.01M396.7 768.5h.01M402.6 811h.01M371 733.5h.01M321.9 839.9h.01M349.1 836.7h.01M344.4 827.2h.01M375.1 778.8h.01M309.3 800.2h.01M389.7 855.4h.01M364 782.2h.01M330.4 762.5h.01M356.5 854.6h.01M391.6 786.5h.01M373.4 871h.01M307 801h.01M417.5 816.9h.01M353.1 764.9h.01M413.1 816.2h.01M339.4 756.3h.01M352.7 750.5h.01M404.6 844.8h.01M379 785.9h.01M403.2 802.5h.01M391.6 764.2h.01M293.9 837.8h.01M314.4 806.1h.01M364.3 859.2h.01M342.7 754.5h.01M334.9 843.4h.01M311.7 811.2h.01M328 758.2h.01M406.7 784.2h.01M356.6 766.1h.01M379.5 810h.01M321.9 832h.01M332.2 762.2h.01M417.6 828.2h.01M371.3 782.4h.01M407.3 780.3h.01M307 814.4h.01M321.1 791.2h.01M409.8 830.9h.01M312.7 823.6h.01M340.1 769.2h.01M356.3 841.5h.01M316.7 793.9h.01M363.4 818.8h.01M331.2 760.7h.01M322.8 802.8h.01M385.7 857.7h.01M310.8 808.4h.01M381.8 826.4h.01M367.7 845.9h.01M397.9 845.5h.01M395.8 826.6h.01M380.2 841.3h.01M360.4 749.8h.01M298.1 842.3h.01M396 853.5h.01M360.8 810.1h.01M363.6 813.6h.01M364.4 866.9h.01M318.2 827.5h.01M354.2 836h.01M330.8 775.7h.01M352.2 729.2h.01M356.3 846.5h.01M363.8 832.5h.01M360.4 740h.01M364.7 854.9h.01M380.8 835.6h.01M315.1 794.9h.01M303.6 820.1h.01M392.3 836.8h.01M332.2 803.1h.01M395 833.6h.01M362.4 740.2h.01M357.2 795.4h.01M385.2 805.7h.01M358.7 729.2h.01M316.2 806.8h.01M355.7 813.2h.01M374.5 745.4h.01M385.6 838h.01M385.1 779.1h.01M386.9 823h.01M328.6 793.2h.01M392.2 801.3h.01M418.2 834.1h.01M326.8 791h.01M345 856.2h.01M386.1 797.7h.01M398.8 765.6h.01M402.1 842.9h.01M347.2 740.1h.01M336.7 816.3h.01M339.5 828h.01M365.9 742.3h.01M404.9 849.1h.01M401.2 810h.01M379 764.9h.01M387.1 798.1h.01M348.6 799.3h.01M360.8 814.2h.01M381.7 788.6h.01M339.5 731.7h.01M376.5 772.7h.01M394.6 855.2h.01M357.3 761.5h.01M375.9 869.9h.01M358.6 784.9h.01M333 746.8h.01M304.3 809.3h.01M404 806h.01M392.7 799.7h.01M319.9 850.5h.01M401.4 867.7h.01M327.9 786.6h.01M320.1 772.9h.01M401.7 796.5h.01M371.7 789.2h.01M340.1 787.5h.01M338 791.1h.01M395.5 853.2h.01M400.7 823.1h.01M400.5 769.6h.01M297 819.6h.01M336 770.5h.01M328.8 800.5h.01M332.7 806.5h.01M395.2 778.8h.01M315.7 781.9h.01M322.8 839.4h.01M345.4 864.9h.01M358.8 737.6h.01M309.7 823.3h.01M395.1 797.6h.01M390.2 816.6h.01M398 829.8h.01M325 778.5h.01M346.6 806.4h.01M359.8 751.8h.01M355.7 822.7h.01M398.6 812.1h.01M380.6 746.8h.01M396.1 786.4h.01M331.9 733.3h.01M388 780.2h.01M357.8 731.9h.01M394.8 732h.01M359.2 778.6h.01M294.5 836.2h.01M350.5 742.6h.01M338.7 725h.01M396.5 811.7h.01M327.4 782.8h.01M370.5 745.2h.01M373.2 852.7h.01M390.3 809.7h.01M407.2 819.9h.01M337.1 732.1h.01M341.8 858.5h.01M332.7 781h.01M370.3 829.2h.01M388.4 829.4h.01M335.9 737.7h.01M327.6 850.2h.01M385.3 762.8h.01M364.4 761.1h.01M368.5 788.2h.01M351.7 814.5h.01M331.8 740.1h.01M375.9 857.3h.01M347.1 852.2h.01M334.4 814.6h.01M405.5 804.5h.01M373.7 777.2h.01M341 833.6h.01M385.9 783.5h.01M316.3 782.7h.01M414.4 825h.01M344.9 809.3h.01M379.1 797.6h.01M363.5 758h.01M331.3 838h.01M308.8 819h.01M340.5 794.7h.01M309.3 846.9h.01M358.5 844.2h.01M376.4 761.1h.01M378.4 789.9h.01M395.3 856.9h.01M333.3 748.3h.01M382 731.7h.01M296.2 840.2h.01M348.5 852.3h.01M305.1 822.9h.01M370.5 791.8h.01M373.2 783.7h.01M371.6 758.1h.01M375.1 804.3h.01M346.3 862h.01M328.5 815.4h.01M336.4 861.7h.01M357 813.6h.01M384.3 803.9h.01M321.1 817h.01M389.4 782.7h.01M379.1 786.1h.01M387.9 791.6h.01M334.5 803.4h.01M398.4 828h.01M400.8 838.1h.01M348.8 760.2h.01M312.5 815.1h.01M378.2 840.3h.01M359.7 840.2h.01M352 805.3h.01M331.7 832.1h.01M384 805.7h.01M402.3 866.5h.01M387.5 847.6h.01M349 730.4h.01M333.7 828h.01M341.3 796.9h.01M327.8 861.1h.01M354.7 818.6h.01M368.1 732.8h.01M382.3 757.9h.01M327.8 845.6h.01M354.1 782.1h.01M342.3 736.9h.01M345.8 777.5h.01M385.7 772.5h.01M344.5 825.5h.01M331.4 856.4h.01M348.1 839.4h.01M373.2 809h.01M299.7 817.2h.01M405.4 838.3h.01M370.3 761.8h.01M310.5 811.2h.01M319 831.7h.01M336.2 785.2h.01M400.3 814h.01M326.9 818.2h.01M378.6 810.6h.01M375.6 819.2h.01M390.7 843.6h.01M375.6 868h.01M342.3 826.8h.01M323.8 834.3h.01M338.9 732h.01M358 763.5h.01M321.7 793.1h.01M355.8 814.8h.01M317.8 787.7h.01M363.9 799.4h.01M356.2 863.5h.01M348 770.5h.01M335.1 826.6h.01M369.3 781.4h.01M389.5 766.8h.01M337.8 752.1h.01M366.8 734.5h.01M342.9 811.4h.01M376.9 796.9h.01M388.6 777.8h.01M381.2 784.6h.01M310.4 839.7h.01M372.1 858.4h.01M397 839.4h.01M393.4 866.5h.01M387.3 761.2h.01M397.3 857.4h.01M360.9 807.2h.01M376.9 762.7h.01M324.5 801.4h.01M339.5 795.3h.01M346.6 812h.01M325 847.6h.01M395 791.1h.01M305.1 816.8h.01M376.2 740.1h.01M374.6 819.2h.01M366.9 858.3h.01M348.8 724.7h.01M378.4 816.8h.01M377.3 864.6h.01M331.9 780h.01M326.8 855.8h.01M388.3 859h.01M387.1 852.9h.01M360.9 859.5h.01M412.4 828.6h.01M401.4 794.7h.01M299.5 822.5h.01M359.5 765.6h.01M344.6 860.6h.01M404.1 805.4h.01M337.2 823.3h.01M388.6 748.2h.01M335.3 739h.01M314.6 789.1h.01M341.1 750.4h.01M335.8 810h.01M341.5 776.9h.01M375.9 761.3h.01M324.7 840.7h.01M384.4 854h.01M380 813.7h.01M366.2 822.1h.01M343.3 763.9h.01M363.3 826.6h.01M399 840.2h.01M327.9 811.4h.01M330 816.3h.01M398.8 816.4h.01M392.5 804.8h.01M375.1 764.7h.01M327.6 833h.01M334.8 843.8h.01M336.6 787.9h.01M383 834.1h.01M383.6 807.8h.01M383 806.3h.01M361.2 789.5h.01M391 820.8h.01M352.7 796.6h.01M344.9 783.3h.01M321.8 790.1h.01M367.4 758.4h.01M391.6 771.8h.01M381.7 764.8h.01M339 809.5h.01M388.4 790.5h.01M327.6 791.4h.01M344.2 834.8h.01M345 796.4h.01M404.7 825h.01M389.9 843.7h.01M332.9 823.2h.01M339.2 771.2h.01M394 823.2h.01M329.6 812.8h.01M382.5 812.5h.01M359.8 840.1h.01M395.9 798.9h.01M404.7 821.5h.01M338.7 796h.01M354.5 792.2h.01M346.8 829.6h.01M371.2 834.6h.01M330.8 782.8h.01M369.5 759.7h.01M397.3 795h.01M342.7 834.5h.01M361 841.8h.01M387.3 829.6h.01M364.2 763.7h.01M380.6 768.3h.01M354.1 848.5h.01M349.8 766.7h.01M374.1 757.7h.01M331.5 787.1h.01M349.2 806.4h.01M396.4 835.1h.01M384.5 823h.01M354.8 806h.01M332.7 795.8h.01M348 806.7h.01M364.1 845.1h.01M352.3 823.4h.01M329.5 838.4h.01M396.7 788.2h.01M343.8 834.7h.01M331.8 785h.01M391 816.1h.01M345.8 840.9h.01M371.2 783h.01M346.6 794.7h.01M357.4 773.5h.01M338.8 826.3h.01M380.4 801.4h.01M370.4 775.5h.01M331.5 818.7h.01M324.3 781.6h.01M364.8 839.3h.01M390.8 794.9h.01M371.2 849.6h.01M404 813.5h.01M387.1 812.8h.01M345.9 770.1h.01M402.7 805.2h.01M353.6 763.6h.01M338.1 796.7h.01M338.1 838.5h.01M349 794h.01M346.8 816.3h.01M395.8 796.9h.01M331.9 807h.01M335.4 761.8h.01M340.8 792.4h.01M368 843.5h.01M340.3 809.1h.01M380.3 786.6h.01M363.6 839.9h.01M354.5 813h.01M367.6 797h.01M383.3 825.9h.01M372.1 846.9h.01M386.5 837h.01M379.5 830.3h.01M370.1 790.7h.01M392 783.3h.01M384.2 808.7h.01M372.1 853.5h.01M356.5 837.1h.01M386.4 790.5h.01M385 824h.01M383.9 830.4h.01M326.4 820.2h.01M347.9 847.1h.01M354.9 852.9h.01M370.9 774.6h.01M354.2 851.7h.01M352.7 796.8h.01M383.3 816h.01M332.6 788.2h.01M348.8 790.1h.01M345.3 852.3h.01M370 814.9h.01M371.1 811.2h.01M369.7 838.3h.01M347 771.8h.01M352.3 787.1h.01M371.9 788.8h.01M335.9 760.8h.01M386.7 829.9h.01M325.5 791.2h.01M337.9 821.7h.01M371.2 783.5h.01M365.3 796.9h.01M358.7 820.1h.01M346.3 813.9h.01M372.8 823.2h.01M342.6 812.5h.01M356.4 836.7h.01M390.9 848.6h.01M352.6 758.7h.01M363.7 843.2h.01M358.1 839.7h.01M365.6 843.2h.01M336.9 798.8h.01M356.7 762.1h.01M367.1 842.1h.01M324.8 790.4h.01M344.9 832.3h.01M372 836.5h.01M390.4 789.7h.01M387.2 802.7h.01M355.8 763.4h.01M372.3 761.2h.01M340.4 794.2h.01M342.6 789.5h.01M381 835h.01M359.1 794.1h.01M372.7 813h.01M358.3 848.1h.01M348 806.2h.01M344 799.6h.01M368.2 763.4h.01M358.6 762.4h.01M399.9 826.3h.01M344.9 766.6h.01M337 845.1h.01M384.8 843.6h.01M331 837.4h.01M341.5 825.6h.01M333 819h.01M361 835.1h.01M343.1 797.5h.01M375.9 841h.01M373.9 808.8h.01M343.9 825.8h.01M399.5 832.2h.01M359.7 814.9h.01M376.3 762.3h.01M354.6 843.6h.01M394 850.7h.01M343.2 784.8h.01M387.8 826.6h.01M379.9 779.6h.01M324.3 843.9h.01M395.9 806.8h.01M385.7 827.4h.01M331.6 768.3h.01M366.6 814.1h.01M360.3 809.3h.01M365.1 793.1h.01M333.2 774.4h.01M371.3 764.7h.01M394.9 844.2h.01M391 802.5h.01M355.7 755.6h.01M383.5 821.5h.01M324.9 813.6h.01M365.7 826h.01M390.4 843.5h.01M322.1 803.3h.01M348.7 828.5h.01M352.6 762.2h.01M333.9 806.5h.01M402.9 825.5h.01M355.6 820.3h.01M354 788.4h.01M371.8 788.8h.01M453.3 872.1h.01M413.4 831.3h.01M515.1 876.2h.01M478.4 869.3h.01M460.2 856.6h.01M419.9 846.9h.01M491.6 869.1h.01M445.5 860.4h.01M421 834.1h.01M439.3 855.5h.01M446.8 839.7h.01M436.8 860h.01M503.8 884.1h.01M446.3 849.3h.01M433.4 834.4h.01M472.7 859.3h.01M435.7 832.5h.01M426.3 838.7h.01M408 847.6h.01M415.9 847.7h.01M422.3 847.8h.01M500.4 871h.01M470.1 849.4h.01M451.6 842.9h.01M462.1 846.8h.01M416.7 830.5h.01M416 856.8h.01M425.4 854.4h.01M416 845.7h.01M415.2 831h.01M485.1 870.2h.01M438.5 856.6h.01M433.1 833.9h.01M444.8 845.9h.01M460.6 844.1h.01M468.3 866.9h.01M468.7 854.2h.01M485 872.5h.01M430.9 860.2h.01M506.1 883.1h.01M487.5 870.7h.01M444.7 853.2h.01M454.3 844.9h.01M454.5 844.8h.01M434.2 836.5h.01M477.2 858.3h.01M449.7 848.6h.01M520.8 875.3h.01M469.8 850.1h.01M416.7 849.3h.01M461.5 848.3h.01M437.9 832.1h.01M508.3 879.8h.01M504 883.5h.01M429.8 857.5h.01M448.5 855.3h.01M460.2 845.8h.01M423.8 843.7h.01M465.2 868.2h.01M456 859.2h.01M446.9 835.2h.01M432.4 851.4h.01M482.5 861.4h.01M442.2 839.5h.01M440.6 838.5h.01M413.1 853.6h.01M459 843.1h.01M417.9 850.3h.01M423.1 829.8h.01M473.4 851h.01M509.9 880.7h.01M483.2 857h.01M487.2 867.4h.01M504.4 871.6h.01M496 870h.01M434.5 830.1h.01M454.8 867.8h.01M474.3 864.1h.01M449 846.6h.01M443.2 846.3h.01M492.6 867.9h.01M459.2 861.5h.01M483 870.7h.01M508.6 880.3h.01M513.8 874.2h.01M429.7 854.3h.01M512.8 875.1h.01M498.4 869.3h.01M424 839.7h.01M442.8 847h.01M463.6 868.6h.01M443.4 855.7h.01M430 853.1h.01M457.4 839.5h.01M476.1 851.5h.01M457.4 851.2h.01M497.3 879.9h.01M457.1 848.5h.01M457.1 865.3h.01M459.6 869.1h.01M468 865.1h.01M413 844.6h.01M484.1 861.6h.01M481.7 858h.01M421.9 832h.01M449.7 846.5h.01M515.7 874.8h.01M459.5 858.7h.01M476.2 851h.01M462.2 847.2h.01M506.6 880.3h.01M461.2 846.3h.01M503.2 882.2h.01M470.4 860.1h.01M490 864.1h.01M442.7 844.6h.01M423.6 851.4h.01M414.2 822.3h.01M465.3 850.2h.01M435.9 842.2h.01M454 849.5h.01M495.7 876.9h.01M455.5 860.1h.01M478.1 863.4h.01M409.2 850.4h.01M434.6 840.9h.01M504.8 873.1h.01M444.2 855.8h.01M480.6 865.8h.01M462.7 871.5h.01M440.2 867.9h.01M415.6 831.7h.01M499.6 880.7h.01M629.1 684.1h.01M621.7 668.2h.01M665.3 690.6h.01M640.4 666.6h.01M624.7 687.4h.01M625.4 657.2h.01M631.3 657.6h.01M648.2 680.5h.01M624.7 655.2h.01M612.5 648.3h.01M643.3 684.2h.01M607.6 665h.01M658.7 683.6h.01M623.3 700.9h.01M625 648.9h.01M649.9 686.7h.01M635.7 694.1h.01M607.4 663.8h.01M629.3 649.8h.01M633.2 677.3h.01M645.6 688.1h.01M639.1 695h.01M626.4 667.2h.01M643.5 665.6h.01M644 674.6h.01M625.8 703.5h.01M612.3 655.8h.01M610.7 657.3h.01M647.5 670.7h.01M635.9 657h.01M622.6 672.4h.01M643.4 687h.01M608.6 676.9h.01M605.5 676.5h.01M639.1 687.5h.01M617.8 667.1h.01M655.4 685.5h.01M628.9 695h.01M652.2 687.4h.01M631.6 658.7h.01M608.7 689.7h.01M624.5 665.7h.01M626.4 655.1h.01M614.9 653.7h.01M629.4 697.9h.01M624.6 652.9h.01M616.3 693.1h.01M617.9 647.6h.01M637 665.8h.01M658.4 696.9h.01M646.9 690h.01M614.4 666.2h.01M620.5 656.8h.01M621.2 698.9h.01M654.1 679.4h.01M611.4 668.4h.01M633.4 695.6h.01M624.7 646.8h.01M648.4 680.2h.01M657.7 681.9h.01M631.7 661h.01M662.1 686.4h.01M618.1 680.4h.01M649 674.7h.01M653.8 678.7h.01M648.6 681.4h.01M616.2 656.8h.01M613.5 696h.01M642.3 682.5h.01M625.1 682.5h.01M634.9 696.5h.01M642.3 703.2h.01M609.5 673.4h.01M617.6 689.8h.01M652.2 684.5h.01M607.2 678.7h.01M663.8 686.7h.01M657.9 679.8h.01M631.7 661.9h.01M664.2 686.1h.01M649.6 665.7h.01M615.3 649.8h.01M614.4 681h.01M650.6 666.6h.01M613.5 695.9h.01M617.1 661.4h.01M637.9 699.9h.01M638.6 652.8h.01M649.8 683.3h.01M639 677.1h.01M622.4 682.5h.01M648.6 693.5h.01M652.7 675.8h.01M629.6 661.1h.01M625.1 662.6h.01M636.5 699.2h.01M621.9 676h.01M618.8 702.1h.01M623.6 676.3h.01M629.5 688.1h.01M637.9 698.2h.01M609.9 668.3h.01M625.7 669.4h.01M664.5 680.4h.01M618.3 653.9h.01M657.6 672.1h.01M621.8 672.7h.01M608.5 683.6h.01M634.3 680h.01M634.7 650.2h.01M666.2 694.6h.01M622.6 669.1h.01M662.5 686.6h.01M635.7 651.7h.01M627.5 706.2h.01M629.1 700.1h.01M608.5 666.1h.01M656 689.4h.01M635.7 678h.01M609.5 665.4h.01M607.1 680.4h.01M643.2 660.9h.01M631.5 660.5h.01M625.9 668h.01M633.8 702.5h.01M617.3 654.7h.01M616.2 679.5h.01M613.6 674.6h.01M640.4 704h.01M660.4 680.3h.01M618.6 651.1h.01M658.6 676.7h.01M664.1 686.3h.01M627.4 661.3h.01M620 698.3h.01M646.6 703h.01M631.5 692.4h.01M617.5 684.3h.01M621.8 676.3h.01M609.8 689.9h.01M605.5 679h.01M611.7 649.3h.01M666.1 682h.01M630.6 647.9h.01M625.4 656.2h.01M664.4 692.5h.01M631.2 698.1h.01M624.5 696.5h.01M615.8 659.7h.01M625.9 699.4h.01M614.8 695.4h.01M668.4 685.7h.01M622.5 700h.01M659.6 680.3h.01M636.9 674.6h.01M617.3 681.8h.01M618.3 657.9h.01M616.1 688.4h.01M610.7 657.1h.01M625.7 680.4h.01M662.4 695.4h.01M624.1 664.9h.01M621.4 654.3h.01M624 662.2h.01M632.7 685.5h.01M633.4 651.6h.01M606.9 672.1h.01M632.7 702.2h.01M632.4 683.1h.01M619.2 659.2h.01M641.9 668.4h.01M621.9 659.3h.01M607.5 678.7h.01M654.3 679.4h.01M618.1 665.8h.01M658.5 690.9h.01M616.1 655.5h.01M641.9 694.4h.01M639.7 674.5h.01M623.4 700.2h.01M635.7 678.7h.01M640 674.9h.01M613.6 672.5h.01M619.2 657.5h.01M654.1 683.4h.01M629.3 673.5h.01M654.2 679.9h.01M643.6 695.2h.01M622.9 705.5h.01M642.5 662.6h.01M605.8 687.2h.01M626.8 685.1h.01M655.2 679.3h.01M610.9 666.4h.01M624.1 673.6h.01M627.2 692.4h.01M642.6 673.5h.01M645.2 683.9h.01M641.4 689.3h.01M643.5 683.2h.01M652.3 691h.01M634.2 668.1h.01M631.1 656.1h.01M639.5 684.9h.01M632 694h.01M627.8 669.8h.01M621.6 653.5h.01M634.4 669.7h.01M619.9 645.3h.01M631.9 675.9h.01M645.6 690.7h.01M649.2 670.1h.01M645.2 698.1h.01M657.4 677h.01M619.6 665.5h.01M615.4 667.8h.01M627.2 664h.01M639.2 666h.01M622.5 694.8h.01M649.9 689.8h.01M659.6 688.6h.01M626.5 706.7h.01M610.7 649.5h.01M619.7 679.7h.01M640.9 702.2h.01M611.8 665.9h.01M623.7 666.8h.01M605.9 673.8h.01M654 692h.01M614.1 653.9h.01M633.4 678.7h.01M617.6 665.1h.01M667.3 692.8h.01M627.8 682.1h.01M627.9 688.9h.01M610.6 654.5h.01M614.4 671.1h.01M635.5 688.9h.01M665 695.5h.01M673.8 702.5h.01M680 707.5h.01M687.5 715h.01M686.2 728h.01M677 709.5h.01M660 692.5h.01M670 700h.01M678.8 697.5h.01M681.2 703.8h.01M685 710h.01M676.2 712.5h.01M666.2 710h.01M670 712.5h.01M682.5 716.2h.01M688.8 720h.01M685 723.8h.01M688.8 726.2h.01M687.5 731.2h.01M690 735h.01M671.8 720.5h.01M657.5 706.8h.01M642.5 710.5h.01M645 658h.01M660 658.8h.01M655.5 663.8h.01M680 714.5h.01M684.5 718h.01M622.5 713.8h.01M626.2 710.5h.01M609.5 712.5h.01M610.8 717h.01M605.8 719h.01M590.8 749.5h.01M604.7 726.2h.01M603.1 725.9h.01M602.2 727.1h.01M602.6 728.5h.01M600.1 728.9h.01M602.9 729.3h.01M601.4 730.8h.01M600.4 731.7h.01M600.5 735.1h.01M598.7 733.6h.01M600.9 735.4h.01M599.1 735.2h.01M598.6 736.5h.01M595.8 738.4h.01M595.7 739.5h.01M595.3 739.7h.01M594.6 740.4h.01M592.9 742.9h.01M594.8 743.5h.01M592.5 743.9h.01M570.4 765.7h.01M566.1 773.5h.01M575.8 775.7h.01M574.6 776.7h.01M565.9 767h.01M565.9 775.1h.01M565.6 772h.01M567.1 771.1h.01M575.1 774.5h.01M581.7 778.5h.01M581.5 772.2h.01M570.9 774.7h.01M574.6 770.1h.01M571.2 767.3h.01M562.5 774.2h.01M573.1 776.2h.01M565.1 775.2h.01M580 777.9h.01M570.3 770.2h.01M573.5 778.2h.01M552.5 769.3h.01M577.3 775.6h.01M584.4 777.3h.01M560.2 778.3h.01M575 769.5h.01M564 775.4h.01M566.9 780.5h.01M579 777.3h.01M563.4 773.1h.01M557.3 778.2h.01M574.2 763.9h.01M567.4 769.6h.01M555.6 769.2h.01M573.5 766h.01M574.6 778.9h.01M572.3 767.6h.01M577.8 770.7h.01M561.4 778.1h.01M578.4 773.6h.01M565.9 771.5h.01M567.2 766h.01M569.9 772.8h.01M567.4 773h.01M552.1 772.8h.01M557 772.5h.01M566 779.3h.01M556.8 778.2h.01M580.8 779h.01M567.6 775.6h.01M571.8 777.2h.01M567.1 773.1h.01M556.6 776.7h.01M566.4 782.4h.01M570.1 776h.01M585.4 775.9h.01M552 766.2h.01M588 765.8h.01M561.2 793.8h.01M605.5 776h.01M615.8 777.8h.01M620 783h.01M622 785.5h.01M620.5 788.8h.01M739.5 719.2h.01M742.5 719.5h.01M745.5 718.8h.01M761.8 790h.01M764.2 789.2h.01M765.8 791.2h.01M763.2 793.8h.01M761.2 796.2h.01M767.5 793h.01M820.7 785.8h.01M818.2 780.3h.01M818 787.1h.01M822.8 779.9h.01M820.5 790.2h.01M822.8 778.8h.01M819.8 782.9h.01M812.6 784.6h.01M820.7 782.8h.01M819.2 789.3h.01M821.1 785.8h.01M819 786h.01M814.3 782.8h.01M822.1 778.7h.01M815 786.2h.01M821.6 786h.01M814.2 781.9h.01M824.3 785.4h.01M819.6 788.6h.01M821.9 790.5h.01M817.2 786h.01M818.7 781.7h.01M820.3 788h.01M822.2 780h.01M813.6 781.9h.01M824.9 777.9h.01M733.4 851.6h.01M734.9 830h.01M707.5 852h.01M717.4 853.5h.01M724.7 835h.01M723.1 857.8h.01M732.3 853.2h.01M725.1 835.8h.01M720.4 853.1h.01M734.5 821.4h.01M732.8 829.1h.01M729.7 839.1h.01M730.3 826.5h.01M730.5 849.5h.01M742.7 853.7h.01M739.2 820.9h.01M738.6 834.6h.01M736.6 840.2h.01M726.5 857.2h.01M739.7 835h.01M731.8 838.7h.01M708.9 848.4h.01M712.6 852h.01M733.9 823.1h.01M731.2 843.2h.01M720.8 844.5h.01M735.7 820.8h.01M730 835.1h.01M725.3 845.6h.01M727.3 855.5h.01M737.9 843.2h.01M728.8 830.5h.01M736.9 822.3h.01M733.4 846.1h.01M719.8 840.7h.01M726.7 843.4h.01M734.1 842.6h.01M738.8 831.6h.01M740.7 830.9h.01M725.4 840.2h.01M726 828.5h.01M730.9 851.5h.01M736 821.4h.01M723.2 848.5h.01M730.7 839.4h.01M717.1 848.9h.01M735.7 854.5h.01M733.6 834.5h.01M714.3 851.8h.01M742.7 829h.01M712.6 844.2h.01M726.2 829.1h.01M727.1 847.7h.01M722.1 842.8h.01M721 835.1h.01M723.7 839.6h.01M717.5 848.5h.01M729.9 833.5h.01M729.8 834.8h.01M723 844.5h.01M733 850.1h.01M716.9 854.3h.01M712.1 849h.01M740.7 847.5h.01M728.3 832.1h.01M720.8 848.4h.01M719.7 842.7h.01M742.7 853.6h.01M708.9 850h.01M716.1 850.9h.01M745.5 853.8h.01M714.7 845.9h.01M721.7 836.4h.01M715.7 856.4h.01M718.9 841h.01M732 826.4h.01M719 846.2h.01M738.6 834.2h.01M734.8 829.9h.01M746.2 820h.01M750 843.8h.01M756.8 842h.01M753 851.2h.01M622.5 841.2h.01M620.5 843.2h.01M618.8 845h.01M617 846.2h.01M621.2 848.2h.01M624 858h.01M623.4 841h.01M621 843.4h.01M618.6 845.5h.01M620.4 848.5h.01M624 858.1h.01M628.5 875.5h.01M631.5 875.5h.01M634.5 880h.01M635.4 883h.01M636.6 884.5h.01M639 888.4h.01M640.5 890.5h.01M642 892h.01M644.4 895.9h.01M647.1 898.6h.01M648 902.5h.01M639.9 903.4h.01M648.6 908.5h.01M643.5 911.5h.01M649.5 914.5h.01M646.5 917.5h.01M642 919h.01M636 920.5h.01M638.4 925h.01M643.5 925h.01M645 922h.01M647.4 913h.01M660 914.5h.01M663.6 913h.01M667.5 916h.01M676.5 918.4h.01M678.6 919.9h.01M693.3 925.6h.01M725.9 935.8h.01M722.9 941.6h.01M734.7 942.4h.01M719.4 936.4h.01M716.3 935.7h.01M724.3 942.1h.01M732.4 940.1h.01M729.2 946.6h.01M731.3 938.1h.01M735.1 942.7h.01M726.7 936.7h.01M726.6 947.6h.01M726.8 946.6h.01M731.2 938.7h.01M727.8 940h.01M727.8 936.1h.01M722.1 935h.01M737.7 940.4h.01M729.5 941.9h.01M724.9 935.3h.01M728.3 940.8h.01M736.5 941.7h.01M733.6 938.8h.01M721.7 941.1h.01M732.2 935.6h.01M717.1 934.1h.01M733.9 941.9h.01M730.2 948.7h.01M715.6 934.7h.01M721.6 939.3h.01M725.8 945.4h.01M723.7 937.6h.01M732.9 941.4h.01M737.6 938.9h.01M713.4 934.5h.01M671.4 984.1h.01M516 917.5h.01M518.4 918.4h.01M516.9 922.9h.01M526.5 969.1h.01M528 976h.01M531.6 980.5h.01M530.4 985.6h.01M538.5 991.6h.01M543 992.5h.01M541.5 998.5h.01M531 1003.6h.01M541.5 1007.5h.01M524.4 1016.5h.01M524.1 1020.4h.01M529.5 1018h.01M540 1014.4h.01M537 999.4h.01M534 1007.5h.01M444 1043.5h.01M448.5 1042h.01M989.8 680.3h.01M958.1 677.3h.01M1017 735.1h.01M1000.7 691.2h.01M966.2 748.4h.01M1010.8 675.4h.01M1024.4 766.2h.01M998.1 673.5h.01M952.8 749.1h.01M961.5 724.4h.01M1031 634.3h.01M1066.6 681.7h.01M1008.8 708.9h.01M1055.4 691.5h.01M1017.5 675.5h.01M980.6 660.7h.01M1024.2 621.1h.01M1015.1 657.9h.01M1014.2 626.3h.01M948.5 726.6h.01M1041.7 729.3h.01M999.6 643.6h.01M1027.2 658.3h.01M1005.4 758.4h.01M935.5 771.2h.01M1014.8 686.5h.01M1071.3 711.6h.01M1031.9 641h.01M1035.2 697h.01M1064.6 653.2h.01M981.8 689.5h.01M979 661.9h.01M1014.6 699.9h.01M1052 734.6h.01M951.1 777h.01M1047.7 684.6h.01M997.3 707.2h.01M1039.8 695.1h.01M1053.1 666h.01M1006.6 728.5h.01M1014.1 764.9h.01M1075.3 700.4h.01M1002.5 766.7h.01M1001 710.9h.01M1075 659.7h.01M946.8 741.5h.01M1034 683.6h.01M1033.5 669.2h.01M962 700.3h.01M985.7 705.3h.01M1011.1 639h.01M989.6 717.8h.01M944.2 749.9h.01M981.9 667.9h.01M1022.7 623.1h.01M988.6 746.3h.01M1001.5 755.5h.01M1050.2 719.1h.01M982.1 765.3h.01M983.1 773.4h.01M946.9 757h.01M1038.9 699.5h.01M989.7 718.6h.01M1058.9 667.8h.01M998.7 650.2h.01M941.2 770.7h.01M999.4 740.5h.01M1028.4 740.4h.01M996.6 772h.01M994.5 698h.01M1019.7 769.1h.01M1044.6 712.8h.01M1040.5 647.1h.01M1058.5 681.7h.01M960.9 720.4h.01M1071.4 665.3h.01M959.2 755.3h.01M958.5 749.6h.01M1041.9 692.4h.01M959.4 708h.01M958.5 735.4h.01M945.7 761h.01M1048.2 678.1h.01M984 668.8h.01M932.6 728.2h.01M1045.2 694.4h.01M1012.4 623h.01M1022.3 714.9h.01M984.5 745.9h.01M1041.4 734.2h.01M1017.9 730.1h.01M1020.2 680.8h.01M982.2 731.5h.01M1048.1 633.9h.01M1004.3 750.9h.01M994.4 761.2h.01M973.4 706.5h.01M1067.6 705.8h.01M960.5 680.9h.01M1072.7 688.3h.01M1051.9 656.6h.01M1037.9 688h.01M1005.5 757.4h.01M1065.1 678.6h.01M1036.1 656.6h.01M1028.8 774.4h.01M1015.8 629.9h.01M1028.9 767.7h.01M1051.2 645.6h.01M1058.1 673.4h.01M982.4 715h.01M974 683.3h.01M1017.3 705.9h.01M956.2 692.9h.01M945.8 738.2h.01M982.8 673.9h.01M959.4 723.3h.01M1015.5 663.9h.01M980.2 745.6h.01M956.7 699.4h.01M963.9 681.5h.01M1011.9 636h.01M971.6 713.4h.01M1008.4 638.5h.01M996.5 773.2h.01M945.3 747.4h.01M982.3 720.3h.01M975.3 750.9h.01M988.4 649.5h.01M1017.4 673.5h.01M1014.3 716.8h.01M989.6 726.6h.01M996.9 694.6h.01M1044.2 720.1h.01M1004.3 749.8h.01M975.9 768.6h.01M963 723.5h.01M952.6 779h.01M1005.3 706.9h.01M945.3 760.2h.01M1060.2 701.2h.01M1066.4 676.2h.01M1030.5 694h.01M983 691.4h.01M1001.2 768.4h.01M1013.5 668.3h.01M977.3 649.1h.01M1018.6 754.9h.01M979.4 752.8h.01M1008.1 673.8h.01M1036.9 684.4h.01M1017.4 714.7h.01M1050 687.4h.01M972.5 698.4h.01M1014.2 736.1h.01M972.6 772h.01M1021.3 724.7h.01M1048.7 639.3h.01M965.8 726.9h.01M1022 630.4h.01M1038.4 630.2h.01M1001.1 724.1h.01M1019.1 641.8h.01M1069.7 699.3h.01M1059.1 667.7h.01M979.6 741.4h.01M962.5 728.3h.01M997.4 674.8h.01M1005.8 646.9h.01M941.3 775.6h.01M1039.6 706.3h.01M1001.5 678.2h.01M997.9 726.8h.01M1035.7 687.2h.01M1042.4 703h.01M1014.3 637.5h.01M1046.2 659.2h.01M1008.8 687.4h.01M1029.7 685h.01M1026.9 667.4h.01M1055.6 662.5h.01M1023.7 646.8h.01M1055.3 669.3h.01M1005.9 699.8h.01M1069.5 704.6h.01M1009.4 761.4h.01M1008 653.4h.01M1056.1 723.7h.01M1019.1 742.5h.01M1004.5 743.2h.01M1024.7 751.3h.01M1052.6 732.3h.01M987.7 771.7h.01M1018.8 746.3h.01M993.3 685h.01M1034.6 643.1h.01M1017.7 701.2h.01M949.7 741.4h.01M1032.7 673.4h.01M977.3 687.3h.01M951.5 772.9h.01M1002.4 654.6h.01M968 704h.01M990.2 717.3h.01M1013.9 658.4h.01M1002.7 730.3h.01M999.3 661.4h.01M936.2 762h.01M996.8 760h.01M996.5 773.6h.01M1052.5 647.4h.01M1055.2 654.1h.01M1042.7 655.7h.01M977.4 720.2h.01M1017.8 673.8h.01M1023.9 770.4h.01M1026.1 665.4h.01M1008.2 747h.01M1002.5 645.3h.01M938.6 747.4h.01M955.8 771.5h.01M1036.2 739.2h.01M1027 705.2h.01M1004.3 735.3h.01M996.2 745.3h.01M1003.1 696.2h.01M961.2 712.1h.01M1065.9 660.3h.01M1034.5 716.5h.01M1077.8 647.4h.01M1015.4 659.5h.01M965.2 763.8h.01M1018 720h.01M1033.9 630.2h.01M1070.7 705.2h.01M966.3 690.8h.01M980.8 695.3h.01M1015.3 717.6h.01M1009.6 707.6h.01M991.7 644.1h.01M1018.6 716.3h.01M1046.1 696.7h.01M1065.5 652.2h.01M967.6 719.3h.01M1023.4 722.6h.01M1068.8 709.7h.01M1003.8 693.7h.01M1072.7 701.2h.01M1053 649.1h.01M985.5 699h.01M990.2 761.4h.01M1005.8 695.3h.01M938.6 742.5h.01M1006 730.7h.01M1007.8 741h.01M994.8 697.3h.01M1054.1 729.3h.01M1022.7 740.2h.01M977.5 708.2h.01M971.5 708.1h.01M1044.1 649.5h.01M1021.7 626.6h.01M1069.5 661.6h.01M979 745.2h.01M1061.2 693.3h.01M1043.7 648.6h.01M1004.3 644.7h.01M1039.3 633.4h.01M1042.9 762.5h.01M1035.9 638.3h.01M1025.3 679.7h.01M1027.2 705.5h.01M968.3 673.5h.01M1068.2 693.8h.01M1053.4 703.5h.01M996.4 667.6h.01M1011.8 736.7h.01M1051.7 649.4h.01M1072.8 651.5h.01M1005.4 649.3h.01M962.8 736h.01M998 686.6h.01M970.3 705.8h.01M1056.9 685.4h.01M1071.8 696.9h.01M1045.9 692.4h.01M991.2 700.9h.01M1019.2 669.4h.01M1007.7 671.1h.01M1014.9 693h.01M952.5 761h.01M948.3 748.1h.01M955.8 753.9h.01M1000.9 719.9h.01M982.8 729.6h.01M1002.4 730.2h.01M971.3 728.8h.01M1070.8 651.9h.01M1029.8 719.4h.01M1007.3 698.9h.01M1012.9 713.2h.01M1051.8 642.3h.01M961.5 742.7h.01M1009 752.7h.01M1011.8 768.7h.01M984.1 697.3h.01M1008.9 733.5h.01M1034 722.2h.01M990.9 643.8h.01M1046.4 732.7h.01M947.9 764.5h.01M1066.1 683.5h.01M1041.3 722.7h.01M975.8 701.4h.01M1077.9 647.6h.01M1021.6 715.2h.01M1011.9 649.5h.01M1034.6 684.2h.01M976.5 702.1h.01M995.4 682.6h.01M1028.8 699.1h.01M1059.2 648.3h.01M935.7 748h.01M1033 644h.01M994.9 710.2h.01M1008.9 636.1h.01M1000.3 752.4h.01M1012.7 678.8h.01M1047.7 743.2h.01M1049.1 690h.01M937.3 730.6h.01M1055.9 678.3h.01M1046.2 722.9h.01M961.3 726.3h.01M1006.2 751.3h.01M964.7 727.4h.01M1025.2 663.2h.01M996.8 740.1h.01M1001.8 671.9h.01M1062.7 668.4h.01M1051.1 719.4h.01M1011.1 761.9h.01M1047.2 733.4h.01M1057.3 708.7h.01M992.2 683.9h.01M976.8 687.9h.01M948.4 766.3h.01M1005.3 690.3h.01M1003.3 671.1h.01M1036 721.9h.01M955.3 679.1h.01M957.6 770.2h.01M963.1 767.1h.01M974.5 757.7h.01M1028.2 771.6h.01M963.8 729.9h.01M1022.2 749.3h.01M949.1 780.1h.01M941.5 724.2h.01M1006.4 664.3h.01M963.3 708.6h.01M987.6 769.7h.01M1013.3 627.4h.01M975 748.9h.01M1048.1 657.8h.01M962.8 678.8h.01M997.5 776.6h.01M1023.3 666.9h.01M1060.1 664.5h.01M986.5 680.1h.01M996.5 679.6h.01M1070.7 703h.01M961.4 674h.01M1001.6 703h.01M952.6 688.3h.01M996.4 767.6h.01M1041.7 718h.01M1035.9 634.3h.01M944.2 733.1h.01M1039.8 719.4h.01M980.2 779h.01M1013.7 661.2h.01M1034.1 746.5h.01M1009.3 714h.01M1005.1 687.1h.01M962.4 742.7h.01M1022.7 763.2h.01M1058.9 679.7h.01M1075.4 678.4h.01M999.5 725.2h.01M971.6 706h.01M1030.6 721h.01M1028.2 756.6h.01M1038.2 686.3h.01M1065.5 644.6h.01M1018.3 634.4h.01M1016.7 744.3h.01M947.1 765.4h.01M1029.3 701.4h.01M1009.9 659.3h.01M1037.3 696.9h.01M975.4 665.7h.01M980.2 732.7h.01M967.4 757.9h.01M1028.9 748.1h.01M1040.3 746.9h.01M1031.4 756.8h.01M985.2 760.2h.01M963.3 701.1h.01M1016.1 653.8h.01M1058.3 659.4h.01M1067.1 663.8h.01M1018.3 664.9h.01M1035.9 648.5h.01M998.3 644.4h.01M1004.6 667.3h.01M1020.4 645.4h.01M1044 644.4h.01M986.7 690h.01M938.8 744.6h.01M1025 720.8h.01M966.6 769.7h.01M1045 641.2h.01M1033.9 712.9h.01M982.2 672.7h.01M963.7 720.3h.01M1035 673.9h.01M1030.6 754.6h.01M1045.9 710.2h.01M962.4 680.6h.01M987.6 753.4h.01M1016.6 731.4h.01M1038.5 734.3h.01M1055.6 665.8h.01M979 756.3h.01M1024.6 760.6h.01M1007.1 699.6h.01M1005.2 715.7h.01M1015.5 677.7h.01M1030 756.9h.01M1055.4 649.3h.01M1029.2 643.8h.01M1005.1 692.1h.01M975.5 762h.01M1028.8 752.1h.01M983.8 733.1h.01M1038.7 638.4h.01M1071.6 668.3h.01M1001.4 693h.01M943.4 758.5h.01M1038.7 754.8h.01M972 732.9h.01M1011.7 703.5h.01M943.6 741.6h.01M948 726h.01M1018.9 669.3h.01M984.2 691.1h.01M974.6 683.9h.01M1063 708.1h.01M1064.8 672.3h.01M1042.1 741.3h.01M944.5 765.7h.01M1035.6 683.6h.01M1007 725.4h.01M986.7 742.2h.01M966.1 731.8h.01M1010.2 704.5h.01M1034.5 765.4h.01M1061.8 666.2h.01M936.1 752.8h.01M1020.9 702.4h.01M987 671.5h.01M988.8 718.2h.01M969.1 741.4h.01M1045.2 652.8h.01M999.3 720.1h.01M1038 645.8h.01M1008.8 653.1h.01M966.1 696.8h.01M951.9 749.7h.01M950.9 745.8h.01M1036.8 764.1h.01M1049 654.1h.01M1035.9 681.2h.01M964.7 752.5h.01M948.5 762.1h.01M997.2 749.2h.01M938.9 731.7h.01M1005.2 672h.01M1046.6 686.1h.01M1006.3 755.4h.01M933.6 745.5h.01M1071 678.5h.01M1012.2 671.9h.01M1033.7 696.5h.01M952 756.1h.01M1006.8 703.1h.01M985.1 726.9h.01M1050.3 705.2h.01M1011.9 640.7h.01M983.5 726.4h.01M1034.8 733.1h.01M1000.5 724.8h.01M1030.5 677.5h.01M1017.2 754.1h.01M950.9 768.2h.01M1027.7 684.6h.01M1064.3 655.3h.01M998.5 686.8h.01M1007 761.1h.01M933.3 763.7h.01M1010.9 682.5h.01M1072.2 706.1h.01M989 668.6h.01M978.5 709.3h.01M938.3 768.6h.01M1038.8 672.7h.01M999 684.9h.01M1032.5 725.7h.01M943.5 730.5h.01M1049.9 672.9h.01M981.5 738.4h.01M1061.8 671.7h.01M960.8 756.9h.01M1035.4 658.7h.01M977.4 693.8h.01M963.9 730.5h.01M940.2 779.8h.01M928.7 739.9h.01M972.7 756.8h.01M1054 667.5h.01M983.7 720.4h.01M1017.9 700.5h.01M1035 738.1h.01M995 744.1h.01M950.7 718.4h.01M981 773.3h.01M978 763.6h.01M1051.4 668.1h.01M1031.3 735.3h.01M996.4 737.4h.01M1058.7 669.6h.01M1000.6 699.2h.01M958.3 752.1h.01M1008.4 740h.01M1000.1 696.1h.01M999.8 640.9h.01M1026.3 708.4h.01M1057.4 724.3h.01M983.2 676h.01M985.6 650.9h.01M1011.1 704.2h.01M1004.1 735.6h.01M1031.7 650.6h.01M999.1 643.2h.01M972 716.1h.01M1008.2 673h.01M1021.7 713.3h.01M1025 690.4h.01M981.3 643h.01M974.3 754h.01M1073.4 698.2h.01M1026.9 635h.01M959 754h.01M1039.4 734.2h.01M984.9 663.2h.01M1031.3 700.9h.01M1043.6 688.5h.01M1060.1 695.6h.01M961.7 751.2h.01M1057.8 644.4h.01M976 699.3h.01M1025.1 750.8h.01M1047.9 698.4h.01M987.4 696.8h.01M989.4 724.2h.01M1015.3 642.1h.01M1018 685.5h.01M1051.9 654.2h.01M1044.6 714.5h.01M1043.5 737.6h.01M1037.2 638.2h.01M1035.1 707.5h.01M1040.2 687.4h.01M973.6 763.3h.01M985.2 664.3h.01M995.2 670.3h.01M1040.2 648.8h.01M1033.4 709.4h.01M980.4 735.3h.01M1013 694.8h.01M964.7 729.2h.01M989.5 747.7h.01M969.3 750.8h.01M1015.3 701.5h.01M983.8 662.2h.01M1017 754.1h.01M962.1 737h.01M999.6 761.6h.01M1013 664.1h.01M1037.6 729.6h.01M1006 636.9h.01M1056.9 659.5h.01M1020.5 732.3h.01M1050.9 692.2h.01M1027.5 717h.01M983.2 715.1h.01M1040.2 650h.01M1008 714.5h.01M1000.5 710.5h.01M1026.8 711.1h.01M997.1 658.2h.01M1006.5 681.6h.01M994.9 719.3h.01M1047.4 714.8h.01M1008.6 686.5h.01M1040.2 697h.01M974.2 726.6h.01M998.5 740.8h.01M980.8 733.2h.01M1059.6 693.1h.01M986.8 670.8h.01M1008.2 642.1h.01M1040 713.6h.01M992.1 725.9h.01M974.3 745.2h.01M1003.5 682.4h.01M988 702.1h.01M1012.9 725.9h.01M1005.2 735.9h.01M996.7 654.2h.01M1028.9 662.5h.01M997.9 665.5h.01M967.1 731.9h.01M1054 643.5h.01M1041.9 678.1h.01M994.3 759.4h.01M994.8 698.1h.01M1048.1 671.3h.01M1031.8 714.2h.01M1022.9 638.6h.01M976 684.1h.01M1014.4 703.4h.01M996.7 736.9h.01M973.7 727.2h.01M1048.9 691h.01M1023.9 682.9h.01M973.6 728.8h.01M1046.7 715.2h.01M1039.4 701.5h.01M1052.6 725.6h.01M1015.7 688.6h.01M1052.7 682.5h.01M983.4 664.6h.01M973.1 691.1h.01M1023.6 698.8h.01M981.4 679.5h.01M1021.7 723.9h.01M1050.3 709.4h.01M1038.4 736.3h.01M978.3 742.5h.01M1039.6 635.7h.01M975.2 765.9h.01M1047.3 728.7h.01M1038.2 692.3h.01M1031.9 684h.01M1021.4 696.4h.01M971.8 753.4h.01M965.6 719.2h.01M1039.8 731.9h.01M1029.5 749.7h.01M1029.2 690.5h.01M1008 743.6h.01M999.7 695h.01M982.4 729h.01M1007.6 661.1h.01M1031.9 705.2h.01M969.9 720.2h.01M977.7 685.4h.01M979.9 663.3h.01M967.8 741.6h.01M990.5 685.1h.01M995.3 650.7h.01M1052.4 656.5h.01M1017.9 669.5h.01M1009.6 638.5h.01M994.7 733.8h.01M1017.9 664.5h.01M981.2 702.8h.01M1035.3 673.2h.01M1021 662.1h.01M982.6 671.5h.01M1023.3 722.1h.01M997.8 726.6h.01M999.9 752.6h.01M1010.6 743.2h.01M1015 722.7h.01M1011 672.1h.01M1024.1 658.3h.01M1037.9 733h.01M1016.4 633.8h.01M995.7 701.6h.01M991.8 642.3h.01M975.7 717.6h.01M1041.9 692.1h.01M1019.8 694h.01M1032.7 637.8h.01M1046.4 658.1h.01M1024 639.9h.01M1011.5 688.2h.01M1023.7 661.9h.01M997.2 755.3h.01M1034.8 678.1h.01M963.2 755.3h.01M975.8 714.9h.01M1014.9 681.9h.01M1015.3 685h.01M980.6 700.4h.01M1041.4 669.4h.01M1000.7 696.7h.01M963.7 760.5h.01M1010.8 712.4h.01M1012 648.7h.01M1020.4 690.7h.01M1010.2 638.2h.01M991.7 702.7h.01M1040.9 690.8h.01M998 716.4h.01M1025.5 668.5h.01M1009.8 761.3h.01M989.6 691.9h.01M996.5 670.6h.01M988.2 744.5h.01M993.3 660.2h.01M1050.4 699.4h.01M982 765.8h.01M980.6 744.1h.01M1011.2 634.9h.01M1009.9 658.7h.01M972.7 764.6h.01M977.8 715.7h.01M1016.8 737.9h.01M969 712.2h.01M1061.2 679.1h.01M1010.4 721.1h.01M998.8 658.3h.01M996.1 671.6h.01M990.3 763.6h.01M1007 632.4h.01M980.3 740.6h.01M1048.9 703.7h.01M975.9 720.3h.01M992 652.8h.01M1029.4 644.5h.01M1038.4 731.2h.01M1000.2 716.6h.01M1061.4 690.4h.01M978.5 694.8h.01M998.6 677.7h.01M1053.4 705.4h.01M1037.1 735.3h.01M970.3 700.6h.01M1042.1 659.5h.01M970.1 761h.01M989.8 703.9h.01M997.2 736.1h.01M1039.6 676.7h.01M1023.4 696.4h.01M1039.5 741.7h.01M977.2 742.1h.01M1047.5 701.7h.01M1007 722.2h.01M974.9 694.3h.01M977.5 740.7h.01M1046.3 724.2h.01M1031 708.9h.01M972.4 748.1h.01M979 762.9h.01M1041.6 735.4h.01M999.9 666.4h.01M1018.6 681.2h.01M990.5 644.5h.01M1052.4 720.5h.01M1021 660.1h.01M1030.8 639.3h.01M1039.7 637h.01M1041.4 695.9h.01M1036.7 743.7h.01M1020.7 755.4h.01M975.2 760.7h.01M1009.5 749.6h.01M1000.5 682.3h.01M1031.1 719h.01M1002.8 635.2h.01M991 712.5h.01M1055.9 721.2h.01M1047.2 690h.01M1018.8 712.4h.01M1017.3 702.4h.01M993.9 730.8h.01M1004.6 712.9h.01M968.1 765.9h.01M971.1 765.9h.01M978.2 750.7h.01M982.3 701.8h.01M983.4 712.5h.01M989.8 734.4h.01M967 715.9h.01M974.9 700.1h.01M1021.1 659.3h.01M979.6 659.4h.01M1028.7 687.1h.01M1030.5 651.9h.01M968.5 725.7h.01M974.7 711.1h.01M1035.1 687.6h.01M993.4 727.3h.01M987.9 723.7h.01M1026.1 700.7h.01M1058.1 665.6h.01M1051 683.5h.01M981.8 721.6h.01M1014 742.4h.01M999 729h.01M960.4 756.1h.01M1048.6 641.7h.01M973.2 684.5h.01M993.9 740.1h.01M1055.8 664.1h.01M1055.5 665h.01M1021.2 677.6h.01M1015.3 662.5h.01M989.2 653.3h.01M1043.1 653.8h.01M965.3 743.7h.01M1004.9 727.8h.01M1003.7 676h.01M964.2 721.7h.01M982.4 746.4h.01M993.7 764.3h.01M1032.1 686.6h.01M1005.9 693.2h.01M1048.1 655.4h.01M1010.9 680.4h.01M1041.7 704.8h.01M982.9 693.7h.01M999.2 684.8h.01M1009 727.5h.01M995.5 665.4h.01M1041.5 680.2h.01M1054 664.4h.01M1006.4 645h.01M994.4 735.3h.01M984.6 748.2h.01M1016.5 700h.01M1012.3 661h.01M1064.6 683.4h.01M990.4 698.5h.01M965 721h.01M1034.9 641.9h.01M974.6 672.1h.01M1043.3 663.3h.01M984.4 750.8h.01M992 738.7h.01M992.3 675.1h.01M1053.9 674.4h.01M1064.7 665.3h.01M1048.7 667.4h.01M1034.2 747.9h.01M1054.6 672.1h.01M1000.6 730.6h.01M988.9 714.1h.01M1054.2 662.9h.01M1026.8 741.2h.01M1042.5 646.5h.01M981.4 694.1h.01M1046.9 671.5h.01M1031.6 735h.01M1052.7 714.8h.01M1003.2 716h.01M1034.4 638.8h.01M977.9 673.8h.01M987 727.3h.01M1004 743.5h.01M1037.5 741.6h.01M1054.8 690.2h.01M1035.2 645.6h.01M973 744.6h.01M979.2 713.6h.01M1011.5 675.7h.01M1002.1 652.7h.01M1050.9 672.9h.01M984.5 757.8h.01M998 757h.01M1022.1 728.2h.01M1028.3 695.6h.01M1002.7 680.3h.01M998.5 715.1h.01M1039.3 735.6h.01M1018.4 757h.01M1001.4 751.3h.01M1008.4 726h.01M993 737h.01M1051.1 668.5h.01M1024.4 693h.01M985.4 677h.01M1039.8 728.6h.01M990.5 647h.01M1017.3 675.5h.01M1023.8 726.9h.01M1001.4 646.5h.01M1016.4 708.3h.01M1017 645.1h.01M987.9 702.6h.01M1034.2 709.9h.01M973.9 711h.01M1023.5 740.2h.01M1008 660.6h.01M1052.4 699h.01M1011.9 685.9h.01M996.1 664.4h.01M992.5 737.8h.01M967.5 724.6h.01M970.9 696.7h.01M983 680.6h.01M1059.9 655.9h.01M1033.7 742h.01M913 705.1h.01M916.8 705.7h.01M928 717.1h.01M927.6 714.1h.01M916.8 708.5h.01M918.8 712.8h.01M928.8 711.5h.01M918.3 715.1h.01M917.2 708.9h.01M926.3 715.2h.01M915.2 695.4h.01M927.2 704.8h.01M913 705.1h.01M929 715.5h.01M921.2 708.8h.01M917.9 713.1h.01M920.5 698.3h.01M927 709.5h.01M921.7 702.1h.01M921.8 705h.01M922.9 704.5h.01M918.2 692h.01M920.9 696.4h.01M916.5 709.4h.01M918.4 709.7h.01M918.9 705.7h.01M924.8 705.8h.01M942.8 654.2h.01M943 704.5h.01M732.2 528.8h.01M749.5 535.5h.01M752 537h.01M754.5 536.5h.01M751 539.5h.01M755 542h.01M743 551.5h.01M767 551.5h.01M769 554.5h.01M764 557h.01M760 556.5h.01M762 554h.01M769.5 562.5h.01M772.2 561.8h.01M760.5 565.5h.01M750.5 570.8h.01M770 570.8h.01M776.5 573.5h.01M738.5 576.8h.01M785 578.3h.01M800 565h.01M801 567h.01M800 569h.01M798.5 580.5h.01M800 582h.01M798.5 584.5h.01M728 580h.01M716 576h.01M720 580.5h.01M721.5 582.5h.01M743 588.5h.01M744.5 592h.01M746.5 592.5h.01M760 589.5h.01M754 590h.01M782 585h.01M789.5 586.5h.01M775 590h.01M772.5 592.5h.01M768 594.5h.01M774 595h.01M770 597h.01M744 600h.01M754.5 598.5h.01M770.5 604.5h.01M779 604h.01M789 601h.01M794.5 597h.01M796 594h.01M726 587h.01M729 591h.01M742.5 596h.01M886 367.9h.01M935.2 375.1h.01M965.1 379.4h.01M978.3 379h.01M984.8 372.1h.01M979.8 365.6h.01M978.1 367.1h.01M907.2 427.5h.01M910.3 433.4h.01M934.6 535.9h.01M935.6 537h.01M932.7 537.5h.01M929.7 538.5h.01M930.6 541.9h.01M929.6 539.7h.01M927.9 541.2h.01M929.4 541.4h.01M928.6 543.2h.01M927.4 542.4h.01M925.5 545.9h.01M925.4 544.8h.01M927.4 545h.01M925.6 547.5h.01M923.9 546.2h.01M922.2 546.6h.01M921.5 550.7h.01M924.9 550.8h.01M921.6 553.1h.01M921.3 552.7h.01M919.7 551.7h.01M920.9 552.2h.01M918.6 554.4h.01M918.8 554.4h.01M918.2 556h.01M915.4 558.1h.01M921.1 558.4h.01M918.5 557.3h.01M918.7 561.1h.01M918.4 562.8h.01M917.2 563.9h.01M917 563.1h.01M915.6 562.2h.01M915.8 565.4h.01M913.9 567.8h.01M916.8 569.4h.01M913 570.3h.01M912.2 568.6h.01M913 571.5h.01M913.4 570.5h.01M912.1 572.9h.01M911.1 569.7h.01M910.3 573h.01M913 576.4h.01M911.4 577.5h.01M913.4 576.5h.01M910.4 578.9h.01M912.4 577.6h.01M911.7 579.4h.01M909.3 582.3h.01M913.1 582h.01M908.9 584.3h.01M927.9 552.9h.01M931.3 560h.01M929.2 580.1h.01M932.7 542h.01M930.7 543.3h.01"/>
<path stroke="#c1aede" d="M808.4 309.6h.01M522.7 457.9h.01M496.3 451.8h.01M509.1 459.9h.01M517.8 530.6h.01M521.7 513.9h.01M494.7 507.7h.01M497.9 539.5h.01M510.3 537.4h.01M479.4 583.3h.01M655.2 457.5h.01M567.2 466.9h.01M577.4 472.8h.01"/>
<path stroke="#bba5e0" d="M727.4 120.6h.01M739.6 164h.01M782.2 251h.01M558.8 310.4h.01M561 317.7h.01M501.2 360.6h.01M400.6 421.4h.01M417 440h.01M474 426.4h.01M478 434h.01M518.1 445.4h.01M492.1 460h.01M511 457.3h.01M476.8 447.4h.01M511.6 456.7h.01M502.6 452.2h.01M477.5 441.1h.01M507.2 447.8h.01M509.9 454.5h.01M519.3 459h.01M510.3 449.2h.01M522.1 438h.01M483.1 450.9h.01M476.9 465.6h.01M490 441.4h.01M465.4 442.6h.01M513.1 449.3h.01M473.5 458.2h.01M493.9 444h.01M499.2 449.6h.01M487.5 450.9h.01M462.2 449.1h.01M457 444.5h.01M484.4 455.9h.01M512.6 461h.01M494.3 447.2h.01M474.4 465.7h.01M476.8 460.4h.01M516.2 447h.01M511.7 462.3h.01M478.8 453.6h.01M470.4 459.2h.01M526.7 454.3h.01M494.1 466h.01M452 445.3h.01M520.4 435.6h.01M550.8 480.6h.01M545 503.1h.01M565.8 473.3h.01M572.9 496h.01M562.5 473.7h.01M573 475.3h.01M548 497.8h.01M561.6 474.3h.01M542.9 482.3h.01M558.9 492.9h.01M548 498.6h.01M573.8 479.7h.01M568.8 498.2h.01M569.4 485.6h.01M570.1 491.4h.01M561 485.6h.01M534.4 481.1h.01M534 494.8h.01M565.1 475.2h.01M552.4 491.1h.01M570.4 485.1h.01M544.5 494.1h.01M542.2 486h.01M533.8 462.5h.01M542.2 494.2h.01M570 474.9h.01M554.2 474.2h.01M535.3 474.4h.01M554.2 485.3h.01M548.9 481.4h.01M542.5 496.8h.01M500 531.1h.01M509.2 518h.01M515.3 545h.01M513.2 506.3h.01M511 498.8h.01M505.7 527.9h.01M504 495.3h.01M500.5 481.7h.01M501 544.5h.01M512.8 507.6h.01M505.6 543.3h.01M498.4 529.1h.01M498.2 526.6h.01M506.4 521.2h.01M509.3 502.1h.01M521.9 510.9h.01M505.7 525.2h.01M500 527.2h.01M493.6 515.4h.01M522.7 528.3h.01M511.7 543.4h.01M508.3 515.4h.01M531.4 508.7h.01M509.5 488.9h.01M484.1 512.7h.01M507.2 496.6h.01M530.1 505.3h.01M496.9 524.1h.01M490.2 513.9h.01M489.4 527h.01M487.5 521.2h.01M530.7 504.3h.01M525.8 553.1h.01M508.5 544.8h.01M497.7 524h.01M483.6 515.4h.01M490.2 498.8h.01M501.9 549.2h.01M497.2 514.8h.01M521.3 547.7h.01M488.5 500.9h.01M521.4 518h.01M531.1 546.9h.01M534.5 521.3h.01M503.3 486.7h.01M507 498h.01M483.9 512.7h.01M507.5 512.1h.01M509.6 530.6h.01M495.5 528.6h.01M496.3 549h.01M474 551.7h.01M501.3 563.8h.01M478.4 560.4h.01M494.6 579.8h.01M507.8 561.1h.01M458.7 539.2h.01M577.4 528h.01M633.8 466h.01M659.8 468.3h.01M508.2 469.3h.01M576.1 439.2h.01M589.5 436.6h.01M624.3 436.1h.01M626.2 436.6h.01M631.1 454.8h.01M602.3 454.4h.01M567.1 450.8h.01M658.8 436.1h.01M672.4 459.9h.01M552.9 475.3h.01M557.6 477h.01M565.5 475h.01M578.8 469.4h.01M584.5 463.5h.01M588.8 468h.01M620.7 406.8h.01M623.4 408.6h.01M628 408.6h.01M711.4 446.5h.01M169 525.2h.01M199.7 526h.01M217 509.5h.01M220 516.2h.01M223 516.7h.01M226.7 530.5h.01M233.5 524.2h.01M234.5 530.8h.01M244.7 526.7h.01M241.7 529.7h.01M242.5 533.5h.01M253 529.3h.01M252.7 541h.01M259.7 530.5h.01M262.7 529.3h.01M259.3 533.5h.01M265.7 538.7h.01M268 536.5h.01M270.2 535h.01M276.2 533.5h.01M203.5 540.2h.01M206.8 551h.01M211.4 555.2h.01M234.2 549.5h.01M240.2 550.3h.01M245.2 549.7h.01M230.5 559.3h.01M167 558.2h.01M312.5 784.5h.01M353 788.4h.01M372.7 771.9h.01M376.8 808.3h.01M375.3 812.7h.01M390.5 819.2h.01M355.2 812h.01M345.6 814.4h.01M349.3 821.8h.01M371.4 831.7h.01M342.8 838.7h.01M294.3 828.7h.01M308.2 839.7h.01M313.6 842.3h.01M333.1 846.7h.01M347.8 843.4h.01M351.1 844.1h.01M361.9 852.1h.01M351.5 854.3h.01M330.3 859.7h.01M347.2 867.3h.01M349.3 867.3h.01M436.6 843.6h.01M384.4 871.6h.01M398.1 862.9h.01M394.2 865.7h.01M452.2 866.8h.01M468.1 853h.01M470.7 865.1h.01M483.7 870.7h.01M491.2 878.7h.01M505.8 878.1h.01M516.2 874.4h.01M629 685.8h.01M667.8 685.8h.01M685 709.8h.01M687 730.5h.01M689.2 733h.01M571.2 772.8h.01M572.2 780h.01M724.5 832h.01M731.2 826.8h.01M720.5 838h.01M715 841.2h.01M712.5 848h.01M730.5 846.2h.01M733.8 848.8h.01M738.8 841.2h.01M668.4 981.4h.01M531.6 992.2h.01M540 1003.6h.01M531.6 1012h.01M528.6 1015h.01M446.1 1044.1h.01M966.5 738.8h.01M992.7 770.1h.01M740 539h.01M740 545.5h.01M760.3 543.3h.01M737.8 557.2h.01M745.3 569h.01M757 568.8h.01M756.7 582.2h.01M917 566h.01"/>
<path stroke="#b69ce3" d="M549.6 324.6h.01M480.7 453.2h.01M501 457.4h.01M485.1 449h.01M529 445h.01M540 460.6h.01M550 456.6h.01M537.7 479.9h.01M493.3 498.3h.01M481.6 519.2h.01M499.2 501.6h.01M503.7 507.2h.01M458.3 588.3h.01M463.3 588.3h.01M473.3 592.8h.01M517.2 574.5h.01M509.7 566.3h.01M489.2 557.5h.01M461.7 530.8h.01M450.8 530.8h.01M596.7 543.3h.01M570.3 454.4h.01M550.1 456.6h.01M653.7 442.5h.01M668 444.7h.01M613.7 379.8h.01M602 390.3h.01M609.1 390.3h.01M630.2 404.6h.01M606 411h.01M625.6 425.1h.01M262.7 543.2h.01M350 787.3h.01M389 813.7h.01M382.3 845.6h.01M436.6 820.7h.01M401.3 866.4h.01M452.7 869.4h.01M492.3 870.1h.01M493.4 874.4h.01M498.8 878.1h.01M513.6 880.9h.01M561.8 791.8h.01M747.5 813.5h.01M735 830h.01M743.5 830h.01M723.8 843.2h.01M740 849.5h.01M739.5 856.2h.01M753.2 845h.01M760 550h.01M764 550.5h.01M764 553.5h.01M744 597.5h.01M747 597h.01M758 591h.01M759 601.5h.01M773 602.5h.01M782 599h.01M785 596h.01M786 586.5h.01M794.5 593h.01M789 595h.01M783.5 598h.01"/>
<path stroke="#b093e5" d="M809.6 315h.01M568.3 512.5h.01M755 550h.01M746 556.5h.01M778.5 596.5h.01"/>
<path stroke="#aa89e7" d="M550.4 315h.01M412.6 435.4h.01M504 464.9h.01M478.3 459.1h.01M498.1 462.2h.01M455.1 447.4h.01M525 445h.01M544.1 485.6h.01M553.9 504.6h.01M522.6 483.4h.01M512.4 513.5h.01M521.2 545.7h.01M488.1 513.9h.01M444.2 530.8h.01M451.7 525h.01M502.5 583.3h.01M503.3 579.2h.01M467.5 535h.01M561.7 513.3h.01M593.2 438.5h.01M602.7 438.3h.01M598.3 453h.01M251.5 497.9h.01M224.5 528.2h.01M246.2 522.2h.01M245.2 532h.01M260.5 541.7h.01M258.2 544.3h.01M278.9 531.7h.01M207.2 542.5h.01M229 548.2h.01M360.4 805.9h.01M376 827.2h.01M367.3 829.3h.01M360.6 831.5h.01M355.8 833.9h.01M321.6 828.7h.01M319 851.7h.01M377.5 843.4h.01M384.4 849.3h.01M380.1 859.7h.01M403.7 835.4h.01M373.8 869h.01M374.7 872.2h.01M380.1 872.5h.01M457.7 866.8h.01M474.3 862.5h.01M476.1 864h.01M507.5 875.5h.01M521.1 875.5h.01M625.5 647.2h.01M608 667h.01M649.2 674.5h.01M757.3 540h.01M755.5 553h.01M754 556h.01M747.5 561.7h.01M744 562h.01M768 572h.01M771.8 583.8h.01M752.5 602.5h.01M759 605.5h.01M775.7 602.5h.01M780.5 591h.01"/>
<path stroke="#a480ea" d="M492.4 461h.01M493.8 453.2h.01M476.9 467.8h.01M514.7 462.7h.01M467.5 456.1h.01M467.5 444.3h.01M495.4 453.8h.01M562.9 480h.01M551.5 494.7h.01M535.5 490.4h.01M556.5 497h.01M554.6 485.4h.01M547.6 488h.01M500.7 512.7h.01M499.9 496.8h.01M515.4 538.2h.01M500.9 501.9h.01M494.7 496.4h.01M490.4 505.2h.01M496.4 527.4h.01M516.5 515.2h.01M492.6 502.2h.01M529.4 526.9h.01M489.3 508.4h.01M465 521.7h.01M437.5 575h.01M442.5 590h.01M478.3 541.2h.01M646 462.7h.01M608.2 383.5h.01M612.8 383.5h.01M630.4 419.6h.01M205 561.5h.01M327 816.3h.01M372.5 840.4h.01M363.4 844.1h.01M446.2 869.6h.01M488 873.3h.01M757.2 561.5h.01M743 564.8h.01M733 590.5h.01M735 592.5h.01M737.5 594.5h.01M740 595.5h.01M750 596h.01M752 593h.01M749.5 602h.01M795 589.5h.01"/>
<path stroke="#9d77ec" d="M781 281.4h.01M806 313.6h.01M554.6 318.8h.01M600.8 546.7h.01M346.7 802.9h.01M379.4 821.8h.01M371 848.8h.01M324.2 860.8h.01M389 868.6h.01M535.5 1012h.01M749.7 555.5h.01M760.7 573.5h.01M757.5 595.5h.01M762.5 596.5h.01M768.5 601h.01M791 590.5h.01"/>
<path stroke="#966eee" d="M554 316.7h.01M718.2 832.5h.01"/>
<path stroke="#8e65f0" d="M555 302h.01M552.7 318.1h.01M622.5 445.3h.01M245.2 538h.01M366.7 834.5h.01M315.7 848.6h.01M379.2 851.2h.01"/>
<path stroke="#855bf2" d="M520.9 464.3h.01M504.8 495.5h.01M516.6 547.8h.01M520 522.8h.01M227.5 551.8h.01M366 818.1h.01M736.5 561.3h.01"/>
<path stroke="#7c51f4" d="M514.2 528h.01M510.5 543h.01M450 576.7h.01M256.4 496.3h.01M319 785.6h.01M337.4 836.1h.01M729.5 587.2h.01M790.7 599.7h.01"/>
<path stroke="#7248f6" d="M481.3 527.7h.01"/>
<path stroke="#673df8" d="M537.4 488.4h.01M518.6 456.4h.01M496.7 509.2h.01M338.7 859.5h.01"/>
<path stroke="#5932fa" d="M358.4 836.5h.01M396.3 869.6h.01"/>
<path stroke="#4926fb" d="M555.6 315h.01M557.1 313.8h.01M550 321h.01M551.2 319.8h.01"/>
<path stroke="#3318fd" d="M718.3 576.7h.01"/>
<path stroke="#0000ff" d="M546.9 321.9h.01M725.5 584.2h.01M764.8 603h.01"/>
</g>
<g stroke="#000" stroke-width="2.9" fill="none">
<path d="M95.5 51.2V1119.5H1139"/>
<path d="M142.2 1119.5v5.4M311.5 1119.5v5.4M480.7 1119.5v5.4M650 1119.5v5.4M819.2 1119.5v5.4M988.5 1119.5v5.4"/>
<path d="M95.5 277.5h-5.6M95.5 571.3h-5.6M95.5 865.1h-5.6"/>
</g>
</svg>
<div id="title" class="t">Ptgs2</div>
<div class="t xt" style="left:102.2px">-15</div>
<div class="t xt" style="left:271.5px">-10</div>
<div class="t xt" style="left:440.7px">-5</div>
<div class="t xt" style="left:610px">0</div>
<div class="t xt" style="left:779.2px">5</div>
<div class="t xt" style="left:948.5px">10</div>
<div class="t yt" style="top:263.2px">10</div>
<div class="t yt" style="top:557.2px">0</div>
<div class="t yt" style="top:851.2px">-10</div>
<div id="xl" class="t">umapNC_1</div>
<div id="yl" class="t">umapNC_2</div>
<div id="bar"><i style="left:0;top:23px"></i><i style="right:0;top:23px"></i><i style="left:0;top:49px"></i><i style="right:0;top:49px"></i></div>
<div class="t lt" style="top:560.3px">2</div>
<div class="t lt" style="top:586.3px">1</div>
<div class="t lt" style="top:612.8px">0</div>
</body></html>
